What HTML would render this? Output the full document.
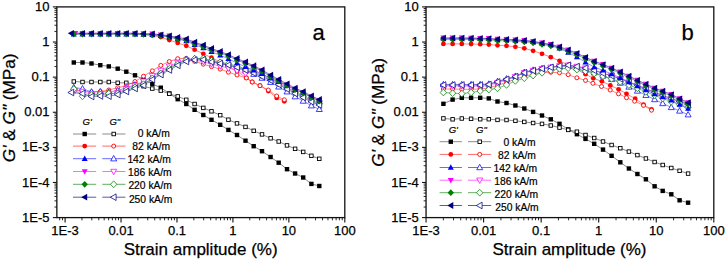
<!DOCTYPE html>
<html><head><meta charset="utf-8"><style>
html,body{margin:0;padding:0;background:#fff;}
body{width:725px;height:260px;overflow:hidden;font-family:"Liberation Sans",sans-serif;}
svg{display:block;}
</style></head><body>
<svg width="725" height="260" viewBox="0 0 725 260">
<rect width="725" height="260" fill="#fff"/>
<rect x="56.85" y="6.9" width="287.95" height="210.70" fill="none" stroke="#111" stroke-width="1.3"/>
<line x1="52.85" y1="6.90" x2="56.85" y2="6.90" stroke="#111" stroke-width="1.1"/>
<text x="49.550000000000004" y="11.00" text-anchor="end" font-size="13" font-family="Liberation Sans, sans-serif" fill="#000" stroke="#000" stroke-width="0.25">10</text>
<line x1="54.45" y1="31.45" x2="56.85" y2="31.45" stroke="#111" stroke-width="0.9"/>
<line x1="54.45" y1="25.26" x2="56.85" y2="25.26" stroke="#111" stroke-width="0.9"/>
<line x1="54.45" y1="20.87" x2="56.85" y2="20.87" stroke="#111" stroke-width="0.9"/>
<line x1="54.45" y1="17.47" x2="56.85" y2="17.47" stroke="#111" stroke-width="0.9"/>
<line x1="54.45" y1="14.69" x2="56.85" y2="14.69" stroke="#111" stroke-width="0.9"/>
<line x1="54.45" y1="12.34" x2="56.85" y2="12.34" stroke="#111" stroke-width="0.9"/>
<line x1="54.45" y1="10.30" x2="56.85" y2="10.30" stroke="#111" stroke-width="0.9"/>
<line x1="54.45" y1="8.51" x2="56.85" y2="8.51" stroke="#111" stroke-width="0.9"/>
<line x1="52.85" y1="42.02" x2="56.85" y2="42.02" stroke="#111" stroke-width="1.1"/>
<text x="49.550000000000004" y="46.12" text-anchor="end" font-size="13" font-family="Liberation Sans, sans-serif" fill="#000" stroke="#000" stroke-width="0.25">1</text>
<line x1="54.45" y1="66.56" x2="56.85" y2="66.56" stroke="#111" stroke-width="0.9"/>
<line x1="54.45" y1="60.38" x2="56.85" y2="60.38" stroke="#111" stroke-width="0.9"/>
<line x1="54.45" y1="55.99" x2="56.85" y2="55.99" stroke="#111" stroke-width="0.9"/>
<line x1="54.45" y1="52.59" x2="56.85" y2="52.59" stroke="#111" stroke-width="0.9"/>
<line x1="54.45" y1="49.81" x2="56.85" y2="49.81" stroke="#111" stroke-width="0.9"/>
<line x1="54.45" y1="47.46" x2="56.85" y2="47.46" stroke="#111" stroke-width="0.9"/>
<line x1="54.45" y1="45.42" x2="56.85" y2="45.42" stroke="#111" stroke-width="0.9"/>
<line x1="54.45" y1="43.62" x2="56.85" y2="43.62" stroke="#111" stroke-width="0.9"/>
<line x1="52.85" y1="77.13" x2="56.85" y2="77.13" stroke="#111" stroke-width="1.1"/>
<text x="49.550000000000004" y="81.23" text-anchor="end" font-size="13" font-family="Liberation Sans, sans-serif" fill="#000" stroke="#000" stroke-width="0.25">0.1</text>
<line x1="54.45" y1="101.68" x2="56.85" y2="101.68" stroke="#111" stroke-width="0.9"/>
<line x1="54.45" y1="95.50" x2="56.85" y2="95.50" stroke="#111" stroke-width="0.9"/>
<line x1="54.45" y1="91.11" x2="56.85" y2="91.11" stroke="#111" stroke-width="0.9"/>
<line x1="54.45" y1="87.70" x2="56.85" y2="87.70" stroke="#111" stroke-width="0.9"/>
<line x1="54.45" y1="84.92" x2="56.85" y2="84.92" stroke="#111" stroke-width="0.9"/>
<line x1="54.45" y1="82.57" x2="56.85" y2="82.57" stroke="#111" stroke-width="0.9"/>
<line x1="54.45" y1="80.54" x2="56.85" y2="80.54" stroke="#111" stroke-width="0.9"/>
<line x1="54.45" y1="78.74" x2="56.85" y2="78.74" stroke="#111" stroke-width="0.9"/>
<line x1="52.85" y1="112.25" x2="56.85" y2="112.25" stroke="#111" stroke-width="1.1"/>
<text x="49.550000000000004" y="116.35" text-anchor="end" font-size="13" font-family="Liberation Sans, sans-serif" fill="#000" stroke="#000" stroke-width="0.25">0.01</text>
<line x1="54.45" y1="136.80" x2="56.85" y2="136.80" stroke="#111" stroke-width="0.9"/>
<line x1="54.45" y1="130.61" x2="56.85" y2="130.61" stroke="#111" stroke-width="0.9"/>
<line x1="54.45" y1="126.22" x2="56.85" y2="126.22" stroke="#111" stroke-width="0.9"/>
<line x1="54.45" y1="122.82" x2="56.85" y2="122.82" stroke="#111" stroke-width="0.9"/>
<line x1="54.45" y1="120.04" x2="56.85" y2="120.04" stroke="#111" stroke-width="0.9"/>
<line x1="54.45" y1="117.69" x2="56.85" y2="117.69" stroke="#111" stroke-width="0.9"/>
<line x1="54.45" y1="115.65" x2="56.85" y2="115.65" stroke="#111" stroke-width="0.9"/>
<line x1="54.45" y1="113.86" x2="56.85" y2="113.86" stroke="#111" stroke-width="0.9"/>
<line x1="52.85" y1="147.37" x2="56.85" y2="147.37" stroke="#111" stroke-width="1.1"/>
<text x="49.550000000000004" y="151.47" text-anchor="end" font-size="13" font-family="Liberation Sans, sans-serif" fill="#000" stroke="#000" stroke-width="0.25">1E-3</text>
<line x1="54.45" y1="171.91" x2="56.85" y2="171.91" stroke="#111" stroke-width="0.9"/>
<line x1="54.45" y1="165.73" x2="56.85" y2="165.73" stroke="#111" stroke-width="0.9"/>
<line x1="54.45" y1="161.34" x2="56.85" y2="161.34" stroke="#111" stroke-width="0.9"/>
<line x1="54.45" y1="157.94" x2="56.85" y2="157.94" stroke="#111" stroke-width="0.9"/>
<line x1="54.45" y1="155.16" x2="56.85" y2="155.16" stroke="#111" stroke-width="0.9"/>
<line x1="54.45" y1="152.81" x2="56.85" y2="152.81" stroke="#111" stroke-width="0.9"/>
<line x1="54.45" y1="150.77" x2="56.85" y2="150.77" stroke="#111" stroke-width="0.9"/>
<line x1="54.45" y1="148.97" x2="56.85" y2="148.97" stroke="#111" stroke-width="0.9"/>
<line x1="52.85" y1="182.48" x2="56.85" y2="182.48" stroke="#111" stroke-width="1.1"/>
<text x="49.550000000000004" y="186.58" text-anchor="end" font-size="13" font-family="Liberation Sans, sans-serif" fill="#000" stroke="#000" stroke-width="0.25">1E-4</text>
<line x1="54.45" y1="207.03" x2="56.85" y2="207.03" stroke="#111" stroke-width="0.9"/>
<line x1="54.45" y1="200.85" x2="56.85" y2="200.85" stroke="#111" stroke-width="0.9"/>
<line x1="54.45" y1="196.46" x2="56.85" y2="196.46" stroke="#111" stroke-width="0.9"/>
<line x1="54.45" y1="193.05" x2="56.85" y2="193.05" stroke="#111" stroke-width="0.9"/>
<line x1="54.45" y1="190.27" x2="56.85" y2="190.27" stroke="#111" stroke-width="0.9"/>
<line x1="54.45" y1="187.92" x2="56.85" y2="187.92" stroke="#111" stroke-width="0.9"/>
<line x1="54.45" y1="185.89" x2="56.85" y2="185.89" stroke="#111" stroke-width="0.9"/>
<line x1="54.45" y1="184.09" x2="56.85" y2="184.09" stroke="#111" stroke-width="0.9"/>
<line x1="52.85" y1="217.60" x2="56.85" y2="217.60" stroke="#111" stroke-width="1.1"/>
<text x="49.550000000000004" y="221.70" text-anchor="end" font-size="13" font-family="Liberation Sans, sans-serif" fill="#000" stroke="#000" stroke-width="0.25">1E-5</text>
<line x1="59.68" y1="217.6" x2="59.68" y2="220.29999999999998" stroke="#111" stroke-width="0.9"/>
<line x1="62.54" y1="217.6" x2="62.54" y2="220.29999999999998" stroke="#111" stroke-width="0.9"/>
<line x1="65.10" y1="217.6" x2="65.10" y2="222.4" stroke="#111" stroke-width="1.1"/>
<text x="65.10" y="235.4" text-anchor="middle" font-size="13" font-family="Liberation Sans, sans-serif" fill="#000" stroke="#000" stroke-width="0.25">1E-3</text>
<line x1="81.94" y1="217.6" x2="81.94" y2="220.29999999999998" stroke="#111" stroke-width="0.9"/>
<line x1="91.79" y1="217.6" x2="91.79" y2="220.29999999999998" stroke="#111" stroke-width="0.9"/>
<line x1="98.78" y1="217.6" x2="98.78" y2="220.29999999999998" stroke="#111" stroke-width="0.9"/>
<line x1="104.20" y1="217.6" x2="104.20" y2="220.29999999999998" stroke="#111" stroke-width="0.9"/>
<line x1="108.63" y1="217.6" x2="108.63" y2="220.29999999999998" stroke="#111" stroke-width="0.9"/>
<line x1="112.37" y1="217.6" x2="112.37" y2="220.29999999999998" stroke="#111" stroke-width="0.9"/>
<line x1="115.62" y1="217.6" x2="115.62" y2="220.29999999999998" stroke="#111" stroke-width="0.9"/>
<line x1="118.48" y1="217.6" x2="118.48" y2="220.29999999999998" stroke="#111" stroke-width="0.9"/>
<line x1="121.04" y1="217.6" x2="121.04" y2="222.4" stroke="#111" stroke-width="1.1"/>
<text x="121.04" y="235.4" text-anchor="middle" font-size="13" font-family="Liberation Sans, sans-serif" fill="#000" stroke="#000" stroke-width="0.25">0.01</text>
<line x1="137.88" y1="217.6" x2="137.88" y2="220.29999999999998" stroke="#111" stroke-width="0.9"/>
<line x1="147.73" y1="217.6" x2="147.73" y2="220.29999999999998" stroke="#111" stroke-width="0.9"/>
<line x1="154.72" y1="217.6" x2="154.72" y2="220.29999999999998" stroke="#111" stroke-width="0.9"/>
<line x1="160.14" y1="217.6" x2="160.14" y2="220.29999999999998" stroke="#111" stroke-width="0.9"/>
<line x1="164.57" y1="217.6" x2="164.57" y2="220.29999999999998" stroke="#111" stroke-width="0.9"/>
<line x1="168.31" y1="217.6" x2="168.31" y2="220.29999999999998" stroke="#111" stroke-width="0.9"/>
<line x1="171.56" y1="217.6" x2="171.56" y2="220.29999999999998" stroke="#111" stroke-width="0.9"/>
<line x1="174.42" y1="217.6" x2="174.42" y2="220.29999999999998" stroke="#111" stroke-width="0.9"/>
<line x1="176.98" y1="217.6" x2="176.98" y2="222.4" stroke="#111" stroke-width="1.1"/>
<text x="176.98" y="235.4" text-anchor="middle" font-size="13" font-family="Liberation Sans, sans-serif" fill="#000" stroke="#000" stroke-width="0.25">0.1</text>
<line x1="193.82" y1="217.6" x2="193.82" y2="220.29999999999998" stroke="#111" stroke-width="0.9"/>
<line x1="203.67" y1="217.6" x2="203.67" y2="220.29999999999998" stroke="#111" stroke-width="0.9"/>
<line x1="210.66" y1="217.6" x2="210.66" y2="220.29999999999998" stroke="#111" stroke-width="0.9"/>
<line x1="216.08" y1="217.6" x2="216.08" y2="220.29999999999998" stroke="#111" stroke-width="0.9"/>
<line x1="220.51" y1="217.6" x2="220.51" y2="220.29999999999998" stroke="#111" stroke-width="0.9"/>
<line x1="224.25" y1="217.6" x2="224.25" y2="220.29999999999998" stroke="#111" stroke-width="0.9"/>
<line x1="227.50" y1="217.6" x2="227.50" y2="220.29999999999998" stroke="#111" stroke-width="0.9"/>
<line x1="230.36" y1="217.6" x2="230.36" y2="220.29999999999998" stroke="#111" stroke-width="0.9"/>
<line x1="232.92" y1="217.6" x2="232.92" y2="222.4" stroke="#111" stroke-width="1.1"/>
<text x="232.92" y="235.4" text-anchor="middle" font-size="13" font-family="Liberation Sans, sans-serif" fill="#000" stroke="#000" stroke-width="0.25">1</text>
<line x1="249.76" y1="217.6" x2="249.76" y2="220.29999999999998" stroke="#111" stroke-width="0.9"/>
<line x1="259.61" y1="217.6" x2="259.61" y2="220.29999999999998" stroke="#111" stroke-width="0.9"/>
<line x1="266.60" y1="217.6" x2="266.60" y2="220.29999999999998" stroke="#111" stroke-width="0.9"/>
<line x1="272.02" y1="217.6" x2="272.02" y2="220.29999999999998" stroke="#111" stroke-width="0.9"/>
<line x1="276.45" y1="217.6" x2="276.45" y2="220.29999999999998" stroke="#111" stroke-width="0.9"/>
<line x1="280.19" y1="217.6" x2="280.19" y2="220.29999999999998" stroke="#111" stroke-width="0.9"/>
<line x1="283.44" y1="217.6" x2="283.44" y2="220.29999999999998" stroke="#111" stroke-width="0.9"/>
<line x1="286.30" y1="217.6" x2="286.30" y2="220.29999999999998" stroke="#111" stroke-width="0.9"/>
<line x1="288.86" y1="217.6" x2="288.86" y2="222.4" stroke="#111" stroke-width="1.1"/>
<text x="288.86" y="235.4" text-anchor="middle" font-size="13" font-family="Liberation Sans, sans-serif" fill="#000" stroke="#000" stroke-width="0.25">10</text>
<line x1="305.70" y1="217.6" x2="305.70" y2="220.29999999999998" stroke="#111" stroke-width="0.9"/>
<line x1="315.55" y1="217.6" x2="315.55" y2="220.29999999999998" stroke="#111" stroke-width="0.9"/>
<line x1="322.54" y1="217.6" x2="322.54" y2="220.29999999999998" stroke="#111" stroke-width="0.9"/>
<line x1="327.96" y1="217.6" x2="327.96" y2="220.29999999999998" stroke="#111" stroke-width="0.9"/>
<line x1="332.39" y1="217.6" x2="332.39" y2="220.29999999999998" stroke="#111" stroke-width="0.9"/>
<line x1="336.13" y1="217.6" x2="336.13" y2="220.29999999999998" stroke="#111" stroke-width="0.9"/>
<line x1="339.38" y1="217.6" x2="339.38" y2="220.29999999999998" stroke="#111" stroke-width="0.9"/>
<line x1="342.24" y1="217.6" x2="342.24" y2="220.29999999999998" stroke="#111" stroke-width="0.9"/>
<line x1="344.80" y1="217.6" x2="344.80" y2="222.4" stroke="#111" stroke-width="1.1"/>
<text x="344.80" y="235.4" text-anchor="middle" font-size="13" font-family="Liberation Sans, sans-serif" fill="#000" stroke="#000" stroke-width="0.25">100</text>
<text transform="translate(14.6,107.8) rotate(-90)" text-anchor="middle" font-size="17.2" font-family="Liberation Sans, sans-serif" fill="#000" stroke="#000" stroke-width="0.25"><tspan font-style="italic">G'</tspan> &amp; <tspan font-style="italic">G"</tspan> (MPa)</text>
<text x="200.65" y="255.3" text-anchor="middle" font-size="17" font-family="Liberation Sans, sans-serif" fill="#000" stroke="#000" stroke-width="0.25">Strain amplitude (%)</text>
<text x="312.6" y="39.8" font-size="22" font-family="Liberation Sans, sans-serif" fill="#000" stroke="#000" stroke-width="0.25">a</text>
<text x="82.6" y="125.0" font-size="9.5" font-style="italic" font-family="Liberation Sans, sans-serif" fill="#000" stroke="#000" stroke-width="0.2">G'</text>
<text x="109.4" y="125.0" font-size="9.5" font-style="italic" font-family="Liberation Sans, sans-serif" fill="#000" stroke="#000" stroke-width="0.2">G"</text>
<line x1="73" y1="134.00" x2="96.2" y2="134.00" stroke="#8a8a8a" stroke-width="1"/>
<line x1="102.3" y1="134.00" x2="125.4" y2="134.00" stroke="#8a8a8a" stroke-width="1"/>
<rect x="82.50" y="131.80" width="4.40" height="4.40" fill="#000000" stroke="#000000" stroke-width="0"/>
<rect x="111.95" y="132.25" width="3.50" height="3.50" fill="#fff" stroke="#000000" stroke-width="0.9"/>
<text x="169.8" y="137.00" text-anchor="end" font-size="10.3" font-family="Liberation Sans, sans-serif" fill="#000" stroke="#000" stroke-width="0.2">0 kA/m</text>
<line x1="73" y1="146.10" x2="96.2" y2="146.10" stroke="#ff6a6a" stroke-width="1"/>
<line x1="102.3" y1="146.10" x2="125.4" y2="146.10" stroke="#ff6a6a" stroke-width="1"/>
<circle cx="84.70" cy="146.10" r="2.4" fill="#ff0000" stroke="#ff0000" stroke-width="0"/>
<circle cx="113.70" cy="146.10" r="2.0" fill="#fff" stroke="#ff0000" stroke-width="0.9"/>
<text x="170.1" y="150.10" text-anchor="end" font-size="10.3" font-family="Liberation Sans, sans-serif" fill="#000" stroke="#000" stroke-width="0.2">82 kA/m</text>
<line x1="73" y1="158.70" x2="96.2" y2="158.70" stroke="#6a6aff" stroke-width="1"/>
<line x1="102.3" y1="158.70" x2="125.4" y2="158.70" stroke="#6a6aff" stroke-width="1"/>
<polygon points="84.70,155.50 87.70,160.90 81.70,160.90" fill="#0000ff" stroke="#0000ff" stroke-width="0"/>
<polygon points="113.70,155.50 116.70,160.90 110.70,160.90" fill="#fff" stroke="#0000ff" stroke-width="0.75"/>
<text x="170.9" y="163.20" text-anchor="end" font-size="10.3" font-family="Liberation Sans, sans-serif" fill="#000" stroke="#000" stroke-width="0.2">142 kA/m</text>
<line x1="73" y1="171.50" x2="96.2" y2="171.50" stroke="#ff6aff" stroke-width="1"/>
<line x1="102.3" y1="171.50" x2="125.4" y2="171.50" stroke="#ff6aff" stroke-width="1"/>
<polygon points="84.70,174.70 87.70,169.30 81.70,169.30" fill="#ff00ff" stroke="#ff00ff" stroke-width="0"/>
<polygon points="113.70,174.70 116.70,169.30 110.70,169.30" fill="#fff" stroke="#ff00ff" stroke-width="0.75"/>
<text x="171.6" y="176.30" text-anchor="end" font-size="10.3" font-family="Liberation Sans, sans-serif" fill="#000" stroke="#000" stroke-width="0.2">186 kA/m</text>
<line x1="73" y1="184.30" x2="96.2" y2="184.30" stroke="#60b060" stroke-width="1"/>
<line x1="102.3" y1="184.30" x2="125.4" y2="184.30" stroke="#60b060" stroke-width="1"/>
<polygon points="84.70,180.90 87.90,184.30 84.70,187.70 81.50,184.30" fill="#008000" stroke="#008000" stroke-width="0"/>
<polygon points="113.70,180.90 116.90,184.30 113.70,187.70 110.50,184.30" fill="#fff" stroke="#008000" stroke-width="0.75"/>
<text x="171.9" y="189.40" text-anchor="end" font-size="10.3" font-family="Liberation Sans, sans-serif" fill="#000" stroke="#000" stroke-width="0.2">220 kA/m</text>
<line x1="73" y1="197.20" x2="96.2" y2="197.20" stroke="#5a5aaa" stroke-width="1"/>
<line x1="102.3" y1="197.20" x2="125.4" y2="197.20" stroke="#5a5aaa" stroke-width="1"/>
<polygon points="81.20,197.20 87.20,193.80 87.20,200.60" fill="#000080" stroke="#000080" stroke-width="0"/>
<polygon points="110.30,197.20 116.10,193.90 116.10,200.50" fill="#fff" stroke="#000080" stroke-width="0.75"/>
<text x="172.4" y="202.50" text-anchor="end" font-size="10.3" font-family="Liberation Sans, sans-serif" fill="#000" stroke="#000" stroke-width="0.2">250 kA/m</text>
<polyline points="73.80,62.50 82.50,62.50 91.50,63.50 100.30,65.20 108.80,66.40 117.70,68.70 126.30,71.70 135.00,75.30 143.50,79.50 152.30,84.10 160.80,87.70 169.30,93.50 177.70,99.20 186.30,104.00 194.60,109.80 203.30,115.00 211.50,119.80 220.20,124.80 228.40,129.90 237.00,135.00 245.50,140.70 253.70,146.20 262.00,151.20 270.60,157.00 278.70,162.70 287.00,169.20 295.10,173.50 303.20,177.50 311.40,183.90 319.30,186.00" fill="none" stroke="#555555" stroke-width="0.7"/>
<rect x="71.60" y="60.30" width="4.40" height="4.40" fill="#000000" stroke="#000000" stroke-width="0"/>
<rect x="80.30" y="60.30" width="4.40" height="4.40" fill="#000000" stroke="#000000" stroke-width="0"/>
<rect x="89.30" y="61.30" width="4.40" height="4.40" fill="#000000" stroke="#000000" stroke-width="0"/>
<rect x="98.10" y="63.00" width="4.40" height="4.40" fill="#000000" stroke="#000000" stroke-width="0"/>
<rect x="106.60" y="64.20" width="4.40" height="4.40" fill="#000000" stroke="#000000" stroke-width="0"/>
<rect x="115.50" y="66.50" width="4.40" height="4.40" fill="#000000" stroke="#000000" stroke-width="0"/>
<rect x="124.10" y="69.50" width="4.40" height="4.40" fill="#000000" stroke="#000000" stroke-width="0"/>
<rect x="132.80" y="73.10" width="4.40" height="4.40" fill="#000000" stroke="#000000" stroke-width="0"/>
<rect x="141.30" y="77.30" width="4.40" height="4.40" fill="#000000" stroke="#000000" stroke-width="0"/>
<rect x="150.10" y="81.90" width="4.40" height="4.40" fill="#000000" stroke="#000000" stroke-width="0"/>
<rect x="158.60" y="85.50" width="4.40" height="4.40" fill="#000000" stroke="#000000" stroke-width="0"/>
<rect x="167.10" y="91.30" width="4.40" height="4.40" fill="#000000" stroke="#000000" stroke-width="0"/>
<rect x="175.50" y="97.00" width="4.40" height="4.40" fill="#000000" stroke="#000000" stroke-width="0"/>
<rect x="184.10" y="101.80" width="4.40" height="4.40" fill="#000000" stroke="#000000" stroke-width="0"/>
<rect x="192.40" y="107.60" width="4.40" height="4.40" fill="#000000" stroke="#000000" stroke-width="0"/>
<rect x="201.10" y="112.80" width="4.40" height="4.40" fill="#000000" stroke="#000000" stroke-width="0"/>
<rect x="209.30" y="117.60" width="4.40" height="4.40" fill="#000000" stroke="#000000" stroke-width="0"/>
<rect x="218.00" y="122.60" width="4.40" height="4.40" fill="#000000" stroke="#000000" stroke-width="0"/>
<rect x="226.20" y="127.70" width="4.40" height="4.40" fill="#000000" stroke="#000000" stroke-width="0"/>
<rect x="234.80" y="132.80" width="4.40" height="4.40" fill="#000000" stroke="#000000" stroke-width="0"/>
<rect x="243.30" y="138.50" width="4.40" height="4.40" fill="#000000" stroke="#000000" stroke-width="0"/>
<rect x="251.50" y="144.00" width="4.40" height="4.40" fill="#000000" stroke="#000000" stroke-width="0"/>
<rect x="259.80" y="149.00" width="4.40" height="4.40" fill="#000000" stroke="#000000" stroke-width="0"/>
<rect x="268.40" y="154.80" width="4.40" height="4.40" fill="#000000" stroke="#000000" stroke-width="0"/>
<rect x="276.50" y="160.50" width="4.40" height="4.40" fill="#000000" stroke="#000000" stroke-width="0"/>
<rect x="284.80" y="167.00" width="4.40" height="4.40" fill="#000000" stroke="#000000" stroke-width="0"/>
<rect x="292.90" y="171.30" width="4.40" height="4.40" fill="#000000" stroke="#000000" stroke-width="0"/>
<rect x="301.00" y="175.30" width="4.40" height="4.40" fill="#000000" stroke="#000000" stroke-width="0"/>
<rect x="309.20" y="181.70" width="4.40" height="4.40" fill="#000000" stroke="#000000" stroke-width="0"/>
<rect x="317.10" y="183.80" width="4.40" height="4.40" fill="#000000" stroke="#000000" stroke-width="0"/>
<polyline points="73.80,81.50 82.50,82.00 91.50,82.00 100.30,82.00 108.80,82.00 117.70,82.80 126.30,82.80 135.00,84.00 143.50,86.20 152.30,88.60 160.80,90.60 169.30,93.80 177.70,96.40 186.30,99.80 194.60,104.00 203.30,107.90 211.50,111.30 220.20,115.20 228.40,119.70 237.00,123.40 245.50,126.90 253.70,130.80 262.00,134.40 270.60,138.30 278.70,141.50 287.00,145.40 295.10,148.80 303.20,151.90 311.40,155.80 319.30,158.80" fill="none" stroke="#555555" stroke-width="0.7"/>
<rect x="72.05" y="79.75" width="3.50" height="3.50" fill="#fff" stroke="#000000" stroke-width="0.9"/>
<rect x="80.75" y="80.25" width="3.50" height="3.50" fill="#fff" stroke="#000000" stroke-width="0.9"/>
<rect x="89.75" y="80.25" width="3.50" height="3.50" fill="#fff" stroke="#000000" stroke-width="0.9"/>
<rect x="98.55" y="80.25" width="3.50" height="3.50" fill="#fff" stroke="#000000" stroke-width="0.9"/>
<rect x="107.05" y="80.25" width="3.50" height="3.50" fill="#fff" stroke="#000000" stroke-width="0.9"/>
<rect x="115.95" y="81.05" width="3.50" height="3.50" fill="#fff" stroke="#000000" stroke-width="0.9"/>
<rect x="124.55" y="81.05" width="3.50" height="3.50" fill="#fff" stroke="#000000" stroke-width="0.9"/>
<rect x="133.25" y="82.25" width="3.50" height="3.50" fill="#fff" stroke="#000000" stroke-width="0.9"/>
<rect x="141.75" y="84.45" width="3.50" height="3.50" fill="#fff" stroke="#000000" stroke-width="0.9"/>
<rect x="150.55" y="86.85" width="3.50" height="3.50" fill="#fff" stroke="#000000" stroke-width="0.9"/>
<rect x="159.05" y="88.85" width="3.50" height="3.50" fill="#fff" stroke="#000000" stroke-width="0.9"/>
<rect x="167.55" y="92.05" width="3.50" height="3.50" fill="#fff" stroke="#000000" stroke-width="0.9"/>
<rect x="175.95" y="94.65" width="3.50" height="3.50" fill="#fff" stroke="#000000" stroke-width="0.9"/>
<rect x="184.55" y="98.05" width="3.50" height="3.50" fill="#fff" stroke="#000000" stroke-width="0.9"/>
<rect x="192.85" y="102.25" width="3.50" height="3.50" fill="#fff" stroke="#000000" stroke-width="0.9"/>
<rect x="201.55" y="106.15" width="3.50" height="3.50" fill="#fff" stroke="#000000" stroke-width="0.9"/>
<rect x="209.75" y="109.55" width="3.50" height="3.50" fill="#fff" stroke="#000000" stroke-width="0.9"/>
<rect x="218.45" y="113.45" width="3.50" height="3.50" fill="#fff" stroke="#000000" stroke-width="0.9"/>
<rect x="226.65" y="117.95" width="3.50" height="3.50" fill="#fff" stroke="#000000" stroke-width="0.9"/>
<rect x="235.25" y="121.65" width="3.50" height="3.50" fill="#fff" stroke="#000000" stroke-width="0.9"/>
<rect x="243.75" y="125.15" width="3.50" height="3.50" fill="#fff" stroke="#000000" stroke-width="0.9"/>
<rect x="251.95" y="129.05" width="3.50" height="3.50" fill="#fff" stroke="#000000" stroke-width="0.9"/>
<rect x="260.25" y="132.65" width="3.50" height="3.50" fill="#fff" stroke="#000000" stroke-width="0.9"/>
<rect x="268.85" y="136.55" width="3.50" height="3.50" fill="#fff" stroke="#000000" stroke-width="0.9"/>
<rect x="276.95" y="139.75" width="3.50" height="3.50" fill="#fff" stroke="#000000" stroke-width="0.9"/>
<rect x="285.25" y="143.65" width="3.50" height="3.50" fill="#fff" stroke="#000000" stroke-width="0.9"/>
<rect x="293.35" y="147.05" width="3.50" height="3.50" fill="#fff" stroke="#000000" stroke-width="0.9"/>
<rect x="301.45" y="150.15" width="3.50" height="3.50" fill="#fff" stroke="#000000" stroke-width="0.9"/>
<rect x="309.65" y="154.05" width="3.50" height="3.50" fill="#fff" stroke="#000000" stroke-width="0.9"/>
<rect x="317.55" y="157.05" width="3.50" height="3.50" fill="#fff" stroke="#000000" stroke-width="0.9"/>
<polyline points="73.80,33.60 82.50,33.60 91.50,33.60 100.30,33.60 108.80,33.60 117.70,33.60 126.30,33.60 135.00,33.60 143.50,34.50 152.30,35.50 160.80,37.10 169.30,40.00 177.70,42.90 186.30,45.80 194.60,49.70 203.30,53.80 211.50,57.70 220.20,62.00 228.40,66.50 237.00,71.00 246.30,77.90 252.20,82.00 260.00,85.70 268.30,91.00 276.70,97.90 284.30,101.30" fill="none" stroke="#ff5050" stroke-width="0.7"/>
<circle cx="73.80" cy="33.60" r="2.4" fill="#ff0000" stroke="#ff0000" stroke-width="0"/>
<circle cx="82.50" cy="33.60" r="2.4" fill="#ff0000" stroke="#ff0000" stroke-width="0"/>
<circle cx="91.50" cy="33.60" r="2.4" fill="#ff0000" stroke="#ff0000" stroke-width="0"/>
<circle cx="100.30" cy="33.60" r="2.4" fill="#ff0000" stroke="#ff0000" stroke-width="0"/>
<circle cx="108.80" cy="33.60" r="2.4" fill="#ff0000" stroke="#ff0000" stroke-width="0"/>
<circle cx="117.70" cy="33.60" r="2.4" fill="#ff0000" stroke="#ff0000" stroke-width="0"/>
<circle cx="126.30" cy="33.60" r="2.4" fill="#ff0000" stroke="#ff0000" stroke-width="0"/>
<circle cx="135.00" cy="33.60" r="2.4" fill="#ff0000" stroke="#ff0000" stroke-width="0"/>
<circle cx="143.50" cy="34.50" r="2.4" fill="#ff0000" stroke="#ff0000" stroke-width="0"/>
<circle cx="152.30" cy="35.50" r="2.4" fill="#ff0000" stroke="#ff0000" stroke-width="0"/>
<circle cx="160.80" cy="37.10" r="2.4" fill="#ff0000" stroke="#ff0000" stroke-width="0"/>
<circle cx="169.30" cy="40.00" r="2.4" fill="#ff0000" stroke="#ff0000" stroke-width="0"/>
<circle cx="177.70" cy="42.90" r="2.4" fill="#ff0000" stroke="#ff0000" stroke-width="0"/>
<circle cx="186.30" cy="45.80" r="2.4" fill="#ff0000" stroke="#ff0000" stroke-width="0"/>
<circle cx="194.60" cy="49.70" r="2.4" fill="#ff0000" stroke="#ff0000" stroke-width="0"/>
<circle cx="203.30" cy="53.80" r="2.4" fill="#ff0000" stroke="#ff0000" stroke-width="0"/>
<circle cx="211.50" cy="57.70" r="2.4" fill="#ff0000" stroke="#ff0000" stroke-width="0"/>
<circle cx="220.20" cy="62.00" r="2.4" fill="#ff0000" stroke="#ff0000" stroke-width="0"/>
<circle cx="228.40" cy="66.50" r="2.4" fill="#ff0000" stroke="#ff0000" stroke-width="0"/>
<circle cx="237.00" cy="71.00" r="2.4" fill="#ff0000" stroke="#ff0000" stroke-width="0"/>
<circle cx="246.30" cy="77.90" r="2.4" fill="#ff0000" stroke="#ff0000" stroke-width="0"/>
<circle cx="252.20" cy="82.00" r="2.4" fill="#ff0000" stroke="#ff0000" stroke-width="0"/>
<circle cx="260.00" cy="85.70" r="2.4" fill="#ff0000" stroke="#ff0000" stroke-width="0"/>
<circle cx="268.30" cy="91.00" r="2.4" fill="#ff0000" stroke="#ff0000" stroke-width="0"/>
<circle cx="276.70" cy="97.90" r="2.4" fill="#ff0000" stroke="#ff0000" stroke-width="0"/>
<circle cx="284.30" cy="101.30" r="2.4" fill="#ff0000" stroke="#ff0000" stroke-width="0"/>
<polyline points="73.80,90.00 82.50,91.00 91.50,92.00 100.30,91.50 108.80,90.00 117.70,87.70 126.30,85.80 135.00,81.50 143.50,76.20 152.30,70.80 160.80,65.40 169.30,61.50 177.70,58.70 186.30,58.30 194.60,61.30 203.30,64.20 211.50,66.60 220.20,69.10 228.40,72.20 237.00,75.00 246.30,77.90 252.20,82.00 260.00,85.70 268.30,90.00 276.70,96.00 284.30,99.80" fill="none" stroke="#ff5050" stroke-width="0.7"/>
<circle cx="73.80" cy="90.00" r="2.0" fill="#fff" stroke="#ff0000" stroke-width="0.9"/>
<circle cx="82.50" cy="91.00" r="2.0" fill="#fff" stroke="#ff0000" stroke-width="0.9"/>
<circle cx="91.50" cy="92.00" r="2.0" fill="#fff" stroke="#ff0000" stroke-width="0.9"/>
<circle cx="100.30" cy="91.50" r="2.0" fill="#fff" stroke="#ff0000" stroke-width="0.9"/>
<circle cx="108.80" cy="90.00" r="2.0" fill="#fff" stroke="#ff0000" stroke-width="0.9"/>
<circle cx="117.70" cy="87.70" r="2.0" fill="#fff" stroke="#ff0000" stroke-width="0.9"/>
<circle cx="126.30" cy="85.80" r="2.0" fill="#fff" stroke="#ff0000" stroke-width="0.9"/>
<circle cx="135.00" cy="81.50" r="2.0" fill="#fff" stroke="#ff0000" stroke-width="0.9"/>
<circle cx="143.50" cy="76.20" r="2.0" fill="#fff" stroke="#ff0000" stroke-width="0.9"/>
<circle cx="152.30" cy="70.80" r="2.0" fill="#fff" stroke="#ff0000" stroke-width="0.9"/>
<circle cx="160.80" cy="65.40" r="2.0" fill="#fff" stroke="#ff0000" stroke-width="0.9"/>
<circle cx="169.30" cy="61.50" r="2.0" fill="#fff" stroke="#ff0000" stroke-width="0.9"/>
<circle cx="177.70" cy="58.70" r="2.0" fill="#fff" stroke="#ff0000" stroke-width="0.9"/>
<circle cx="186.30" cy="58.30" r="2.0" fill="#fff" stroke="#ff0000" stroke-width="0.9"/>
<circle cx="194.60" cy="61.30" r="2.0" fill="#fff" stroke="#ff0000" stroke-width="0.9"/>
<circle cx="203.30" cy="64.20" r="2.0" fill="#fff" stroke="#ff0000" stroke-width="0.9"/>
<circle cx="211.50" cy="66.60" r="2.0" fill="#fff" stroke="#ff0000" stroke-width="0.9"/>
<circle cx="220.20" cy="69.10" r="2.0" fill="#fff" stroke="#ff0000" stroke-width="0.9"/>
<circle cx="228.40" cy="72.20" r="2.0" fill="#fff" stroke="#ff0000" stroke-width="0.9"/>
<circle cx="237.00" cy="75.00" r="2.0" fill="#fff" stroke="#ff0000" stroke-width="0.9"/>
<circle cx="246.30" cy="77.90" r="2.0" fill="#fff" stroke="#ff0000" stroke-width="0.9"/>
<circle cx="252.20" cy="82.00" r="2.0" fill="#fff" stroke="#ff0000" stroke-width="0.9"/>
<circle cx="260.00" cy="85.70" r="2.0" fill="#fff" stroke="#ff0000" stroke-width="0.9"/>
<circle cx="268.30" cy="90.00" r="2.0" fill="#fff" stroke="#ff0000" stroke-width="0.9"/>
<circle cx="276.70" cy="96.00" r="2.0" fill="#fff" stroke="#ff0000" stroke-width="0.9"/>
<circle cx="284.30" cy="99.80" r="2.0" fill="#fff" stroke="#ff0000" stroke-width="0.9"/>
<polyline points="73.80,87.50 82.50,88.70 91.50,91.90 100.30,91.60 108.80,92.00 117.70,90.60 126.30,87.70 135.00,84.90 143.50,82.00 152.30,76.40 160.80,71.60 169.30,67.38 177.70,63.15 186.30,59.62 194.60,58.50 203.30,58.48 211.50,61.15 220.20,63.12 228.40,65.00 237.00,67.69 245.50,70.78 253.70,74.17 262.00,78.06 270.60,82.25 278.70,86.85 287.00,91.74 295.10,96.63 303.20,101.02 311.40,105.71 319.30,109.30" fill="none" stroke="#6060ff" stroke-width="0.7"/>
<polygon points="73.80,84.30 76.80,89.70 70.80,89.70" fill="#fff" stroke="#0000ff" stroke-width="0.75"/>
<polygon points="82.50,85.50 85.50,90.90 79.50,90.90" fill="#fff" stroke="#0000ff" stroke-width="0.75"/>
<polygon points="91.50,88.70 94.50,94.10 88.50,94.10" fill="#fff" stroke="#0000ff" stroke-width="0.75"/>
<polygon points="100.30,88.40 103.30,93.80 97.30,93.80" fill="#fff" stroke="#0000ff" stroke-width="0.75"/>
<polygon points="108.80,88.80 111.80,94.20 105.80,94.20" fill="#fff" stroke="#0000ff" stroke-width="0.75"/>
<polygon points="117.70,87.40 120.70,92.80 114.70,92.80" fill="#fff" stroke="#0000ff" stroke-width="0.75"/>
<polygon points="126.30,84.50 129.30,89.90 123.30,89.90" fill="#fff" stroke="#0000ff" stroke-width="0.75"/>
<polygon points="135.00,81.70 138.00,87.10 132.00,87.10" fill="#fff" stroke="#0000ff" stroke-width="0.75"/>
<polygon points="143.50,78.80 146.50,84.20 140.50,84.20" fill="#fff" stroke="#0000ff" stroke-width="0.75"/>
<polygon points="152.30,73.20 155.30,78.60 149.30,78.60" fill="#fff" stroke="#0000ff" stroke-width="0.75"/>
<polygon points="160.80,68.40 163.80,73.80 157.80,73.80" fill="#fff" stroke="#0000ff" stroke-width="0.75"/>
<polygon points="169.30,64.17 172.30,69.58 166.30,69.58" fill="#fff" stroke="#0000ff" stroke-width="0.75"/>
<polygon points="177.70,59.95 180.70,65.35 174.70,65.35" fill="#fff" stroke="#0000ff" stroke-width="0.75"/>
<polygon points="186.30,56.42 189.30,61.83 183.30,61.83" fill="#fff" stroke="#0000ff" stroke-width="0.75"/>
<polygon points="194.60,55.30 197.60,60.70 191.60,60.70" fill="#fff" stroke="#0000ff" stroke-width="0.75"/>
<polygon points="203.30,55.27 206.30,60.68 200.30,60.68" fill="#fff" stroke="#0000ff" stroke-width="0.75"/>
<polygon points="211.50,57.95 214.50,63.35 208.50,63.35" fill="#fff" stroke="#0000ff" stroke-width="0.75"/>
<polygon points="220.20,59.92 223.20,65.33 217.20,65.33" fill="#fff" stroke="#0000ff" stroke-width="0.75"/>
<polygon points="228.40,61.80 231.40,67.20 225.40,67.20" fill="#fff" stroke="#0000ff" stroke-width="0.75"/>
<polygon points="237.00,64.49 240.00,69.89 234.00,69.89" fill="#fff" stroke="#0000ff" stroke-width="0.75"/>
<polygon points="245.50,67.58 248.50,72.98 242.50,72.98" fill="#fff" stroke="#0000ff" stroke-width="0.75"/>
<polygon points="253.70,70.97 256.70,76.37 250.70,76.37" fill="#fff" stroke="#0000ff" stroke-width="0.75"/>
<polygon points="262.00,74.86 265.00,80.26 259.00,80.26" fill="#fff" stroke="#0000ff" stroke-width="0.75"/>
<polygon points="270.60,79.05 273.60,84.45 267.60,84.45" fill="#fff" stroke="#0000ff" stroke-width="0.75"/>
<polygon points="278.70,83.65 281.70,89.05 275.70,89.05" fill="#fff" stroke="#0000ff" stroke-width="0.75"/>
<polygon points="287.00,88.54 290.00,93.94 284.00,93.94" fill="#fff" stroke="#0000ff" stroke-width="0.75"/>
<polygon points="295.10,93.43 298.10,98.83 292.10,98.83" fill="#fff" stroke="#0000ff" stroke-width="0.75"/>
<polygon points="303.20,97.82 306.20,103.22 300.20,103.22" fill="#fff" stroke="#0000ff" stroke-width="0.75"/>
<polygon points="311.40,102.51 314.40,107.91 308.40,107.91" fill="#fff" stroke="#0000ff" stroke-width="0.75"/>
<polygon points="319.30,106.10 322.30,111.50 316.30,111.50" fill="#fff" stroke="#0000ff" stroke-width="0.75"/>
<polyline points="75.00,90.50 82.50,91.50 91.50,94.50 100.30,94.00 108.80,94.20 117.70,92.60 126.30,88.94 135.00,85.35 143.50,81.26 152.30,75.64 160.80,70.46 169.30,66.17 177.70,62.39 186.30,60.06 194.60,60.59 203.30,61.67 211.50,64.02 220.20,66.02 228.40,68.24 237.00,70.77 245.50,73.56 253.70,71.00 262.00,74.50 270.60,78.30 278.70,82.50 287.00,87.00 295.10,91.50 303.20,95.50 311.40,99.80 319.30,103.00" fill="none" stroke="#ff60ff" stroke-width="0.7"/>
<polygon points="75.00,93.70 78.00,88.30 72.00,88.30" fill="#fff" stroke="#ff00ff" stroke-width="0.75"/>
<polygon points="82.50,94.70 85.50,89.30 79.50,89.30" fill="#fff" stroke="#ff00ff" stroke-width="0.75"/>
<polygon points="91.50,97.70 94.50,92.30 88.50,92.30" fill="#fff" stroke="#ff00ff" stroke-width="0.75"/>
<polygon points="100.30,97.20 103.30,91.80 97.30,91.80" fill="#fff" stroke="#ff00ff" stroke-width="0.75"/>
<polygon points="108.80,97.40 111.80,92.00 105.80,92.00" fill="#fff" stroke="#ff00ff" stroke-width="0.75"/>
<polygon points="117.70,95.80 120.70,90.40 114.70,90.40" fill="#fff" stroke="#ff00ff" stroke-width="0.75"/>
<polygon points="126.30,92.14 129.30,86.73 123.30,86.73" fill="#fff" stroke="#ff00ff" stroke-width="0.75"/>
<polygon points="135.00,88.55 138.00,83.15 132.00,83.15" fill="#fff" stroke="#ff00ff" stroke-width="0.75"/>
<polygon points="143.50,84.46 146.50,79.06 140.50,79.06" fill="#fff" stroke="#ff00ff" stroke-width="0.75"/>
<polygon points="152.30,78.84 155.30,73.44 149.30,73.44" fill="#fff" stroke="#ff00ff" stroke-width="0.75"/>
<polygon points="160.80,73.66 163.80,68.26 157.80,68.26" fill="#fff" stroke="#ff00ff" stroke-width="0.75"/>
<polygon points="169.30,69.38 172.30,63.97 166.30,63.97" fill="#fff" stroke="#ff00ff" stroke-width="0.75"/>
<polygon points="177.70,65.59 180.70,60.19 174.70,60.19" fill="#fff" stroke="#ff00ff" stroke-width="0.75"/>
<polygon points="186.30,63.26 189.30,57.86 183.30,57.86" fill="#fff" stroke="#ff00ff" stroke-width="0.75"/>
<polygon points="194.60,63.79 197.60,58.38 191.60,58.38" fill="#fff" stroke="#ff00ff" stroke-width="0.75"/>
<polygon points="203.30,64.87 206.30,59.47 200.30,59.47" fill="#fff" stroke="#ff00ff" stroke-width="0.75"/>
<polygon points="211.50,67.22 214.50,61.81 208.50,61.81" fill="#fff" stroke="#ff00ff" stroke-width="0.75"/>
<polygon points="220.20,69.22 223.20,63.82 217.20,63.82" fill="#fff" stroke="#ff00ff" stroke-width="0.75"/>
<polygon points="228.40,71.44 231.40,66.04 225.40,66.04" fill="#fff" stroke="#ff00ff" stroke-width="0.75"/>
<polygon points="237.00,73.97 240.00,68.56 234.00,68.56" fill="#fff" stroke="#ff00ff" stroke-width="0.75"/>
<polygon points="245.50,76.76 248.50,71.36 242.50,71.36" fill="#fff" stroke="#ff00ff" stroke-width="0.75"/>
<polygon points="253.70,74.20 256.70,68.80 250.70,68.80" fill="#fff" stroke="#ff00ff" stroke-width="0.75"/>
<polygon points="262.00,77.70 265.00,72.30 259.00,72.30" fill="#fff" stroke="#ff00ff" stroke-width="0.75"/>
<polygon points="270.60,81.50 273.60,76.10 267.60,76.10" fill="#fff" stroke="#ff00ff" stroke-width="0.75"/>
<polygon points="278.70,85.70 281.70,80.30 275.70,80.30" fill="#fff" stroke="#ff00ff" stroke-width="0.75"/>
<polygon points="287.00,90.20 290.00,84.80 284.00,84.80" fill="#fff" stroke="#ff00ff" stroke-width="0.75"/>
<polygon points="295.10,94.70 298.10,89.30 292.10,89.30" fill="#fff" stroke="#ff00ff" stroke-width="0.75"/>
<polygon points="303.20,98.70 306.20,93.30 300.20,93.30" fill="#fff" stroke="#ff00ff" stroke-width="0.75"/>
<polygon points="311.40,103.00 314.40,97.60 308.40,97.60" fill="#fff" stroke="#ff00ff" stroke-width="0.75"/>
<polygon points="319.30,106.20 322.30,100.80 316.30,100.80" fill="#fff" stroke="#ff00ff" stroke-width="0.75"/>
<polyline points="73.80,89.10 82.50,96.30 91.50,95.00 100.30,94.40 108.80,93.50 117.70,93.40 126.30,90.30 135.00,87.30 143.50,84.20 152.30,78.40 160.80,73.40 169.30,68.80 177.70,64.20 186.30,60.30 194.60,58.80 203.30,58.40 211.50,60.70 220.20,62.30 228.40,63.80 237.00,66.10 245.50,68.80 253.70,71.80 262.00,75.30 270.60,79.10 278.70,83.30 287.00,87.80 295.10,92.30 303.20,96.30 311.40,100.60 319.30,103.80" fill="none" stroke="#40a040" stroke-width="0.7"/>
<polygon points="73.80,85.70 77.00,89.10 73.80,92.50 70.60,89.10" fill="#fff" stroke="#008000" stroke-width="0.75"/>
<polygon points="82.50,92.90 85.70,96.30 82.50,99.70 79.30,96.30" fill="#fff" stroke="#008000" stroke-width="0.75"/>
<polygon points="91.50,91.60 94.70,95.00 91.50,98.40 88.30,95.00" fill="#fff" stroke="#008000" stroke-width="0.75"/>
<polygon points="100.30,91.00 103.50,94.40 100.30,97.80 97.10,94.40" fill="#fff" stroke="#008000" stroke-width="0.75"/>
<polygon points="108.80,90.10 112.00,93.50 108.80,96.90 105.60,93.50" fill="#fff" stroke="#008000" stroke-width="0.75"/>
<polygon points="117.70,90.00 120.90,93.40 117.70,96.80 114.50,93.40" fill="#fff" stroke="#008000" stroke-width="0.75"/>
<polygon points="126.30,86.90 129.50,90.30 126.30,93.70 123.10,90.30" fill="#fff" stroke="#008000" stroke-width="0.75"/>
<polygon points="135.00,83.90 138.20,87.30 135.00,90.70 131.80,87.30" fill="#fff" stroke="#008000" stroke-width="0.75"/>
<polygon points="143.50,80.80 146.70,84.20 143.50,87.60 140.30,84.20" fill="#fff" stroke="#008000" stroke-width="0.75"/>
<polygon points="152.30,75.00 155.50,78.40 152.30,81.80 149.10,78.40" fill="#fff" stroke="#008000" stroke-width="0.75"/>
<polygon points="160.80,70.00 164.00,73.40 160.80,76.80 157.60,73.40" fill="#fff" stroke="#008000" stroke-width="0.75"/>
<polygon points="169.30,65.40 172.50,68.80 169.30,72.20 166.10,68.80" fill="#fff" stroke="#008000" stroke-width="0.75"/>
<polygon points="177.70,60.80 180.90,64.20 177.70,67.60 174.50,64.20" fill="#fff" stroke="#008000" stroke-width="0.75"/>
<polygon points="186.30,56.90 189.50,60.30 186.30,63.70 183.10,60.30" fill="#fff" stroke="#008000" stroke-width="0.75"/>
<polygon points="194.60,55.40 197.80,58.80 194.60,62.20 191.40,58.80" fill="#fff" stroke="#008000" stroke-width="0.75"/>
<polygon points="203.30,55.00 206.50,58.40 203.30,61.80 200.10,58.40" fill="#fff" stroke="#008000" stroke-width="0.75"/>
<polygon points="211.50,57.30 214.70,60.70 211.50,64.10 208.30,60.70" fill="#fff" stroke="#008000" stroke-width="0.75"/>
<polygon points="220.20,58.90 223.40,62.30 220.20,65.70 217.00,62.30" fill="#fff" stroke="#008000" stroke-width="0.75"/>
<polygon points="228.40,60.40 231.60,63.80 228.40,67.20 225.20,63.80" fill="#fff" stroke="#008000" stroke-width="0.75"/>
<polygon points="237.00,62.70 240.20,66.10 237.00,69.50 233.80,66.10" fill="#fff" stroke="#008000" stroke-width="0.75"/>
<polygon points="245.50,65.40 248.70,68.80 245.50,72.20 242.30,68.80" fill="#fff" stroke="#008000" stroke-width="0.75"/>
<polygon points="253.70,68.40 256.90,71.80 253.70,75.20 250.50,71.80" fill="#fff" stroke="#008000" stroke-width="0.75"/>
<polygon points="262.00,71.90 265.20,75.30 262.00,78.70 258.80,75.30" fill="#fff" stroke="#008000" stroke-width="0.75"/>
<polygon points="270.60,75.70 273.80,79.10 270.60,82.50 267.40,79.10" fill="#fff" stroke="#008000" stroke-width="0.75"/>
<polygon points="278.70,79.90 281.90,83.30 278.70,86.70 275.50,83.30" fill="#fff" stroke="#008000" stroke-width="0.75"/>
<polygon points="287.00,84.40 290.20,87.80 287.00,91.20 283.80,87.80" fill="#fff" stroke="#008000" stroke-width="0.75"/>
<polygon points="295.10,88.90 298.30,92.30 295.10,95.70 291.90,92.30" fill="#fff" stroke="#008000" stroke-width="0.75"/>
<polygon points="303.20,92.90 306.40,96.30 303.20,99.70 300.00,96.30" fill="#fff" stroke="#008000" stroke-width="0.75"/>
<polygon points="311.40,97.20 314.60,100.60 311.40,104.00 308.20,100.60" fill="#fff" stroke="#008000" stroke-width="0.75"/>
<polygon points="319.30,100.40 322.50,103.80 319.30,107.20 316.10,103.80" fill="#fff" stroke="#008000" stroke-width="0.75"/>
<polyline points="71.30,92.50 82.50,93.50 91.50,96.50 100.30,96.00 108.80,96.20 117.70,94.60 126.30,91.50 135.00,88.50 143.50,85.40 152.30,79.60 160.80,74.60 169.30,70.00 177.70,65.40 186.30,61.50 194.60,60.00 203.30,59.60 211.50,61.90 220.20,63.50 228.40,65.00 237.00,67.30 245.50,70.00 253.70,73.00 262.00,76.50 270.60,80.30 278.70,84.50 287.00,89.00 295.10,93.50 303.20,97.50 311.40,101.80 319.30,105.00" fill="none" stroke="#5050a0" stroke-width="0.7"/>
<polygon points="67.90,92.50 73.70,89.20 73.70,95.80" fill="#fff" stroke="#000080" stroke-width="0.75"/>
<polygon points="79.10,93.50 84.90,90.20 84.90,96.80" fill="#fff" stroke="#000080" stroke-width="0.75"/>
<polygon points="88.10,96.50 93.90,93.20 93.90,99.80" fill="#fff" stroke="#000080" stroke-width="0.75"/>
<polygon points="96.90,96.00 102.70,92.70 102.70,99.30" fill="#fff" stroke="#000080" stroke-width="0.75"/>
<polygon points="105.40,96.20 111.20,92.90 111.20,99.50" fill="#fff" stroke="#000080" stroke-width="0.75"/>
<polygon points="114.30,94.60 120.10,91.30 120.10,97.90" fill="#fff" stroke="#000080" stroke-width="0.75"/>
<polygon points="122.90,91.50 128.70,88.20 128.70,94.80" fill="#fff" stroke="#000080" stroke-width="0.75"/>
<polygon points="131.60,88.50 137.40,85.20 137.40,91.80" fill="#fff" stroke="#000080" stroke-width="0.75"/>
<polygon points="140.10,85.40 145.90,82.10 145.90,88.70" fill="#fff" stroke="#000080" stroke-width="0.75"/>
<polygon points="148.90,79.60 154.70,76.30 154.70,82.90" fill="#fff" stroke="#000080" stroke-width="0.75"/>
<polygon points="157.40,74.60 163.20,71.30 163.20,77.90" fill="#fff" stroke="#000080" stroke-width="0.75"/>
<polygon points="165.90,70.00 171.70,66.70 171.70,73.30" fill="#fff" stroke="#000080" stroke-width="0.75"/>
<polygon points="174.30,65.40 180.10,62.10 180.10,68.70" fill="#fff" stroke="#000080" stroke-width="0.75"/>
<polygon points="182.90,61.50 188.70,58.20 188.70,64.80" fill="#fff" stroke="#000080" stroke-width="0.75"/>
<polygon points="191.20,60.00 197.00,56.70 197.00,63.30" fill="#fff" stroke="#000080" stroke-width="0.75"/>
<polygon points="199.90,59.60 205.70,56.30 205.70,62.90" fill="#fff" stroke="#000080" stroke-width="0.75"/>
<polygon points="208.10,61.90 213.90,58.60 213.90,65.20" fill="#fff" stroke="#000080" stroke-width="0.75"/>
<polygon points="216.80,63.50 222.60,60.20 222.60,66.80" fill="#fff" stroke="#000080" stroke-width="0.75"/>
<polygon points="225.00,65.00 230.80,61.70 230.80,68.30" fill="#fff" stroke="#000080" stroke-width="0.75"/>
<polygon points="233.60,67.30 239.40,64.00 239.40,70.60" fill="#fff" stroke="#000080" stroke-width="0.75"/>
<polygon points="242.10,70.00 247.90,66.70 247.90,73.30" fill="#fff" stroke="#000080" stroke-width="0.75"/>
<polygon points="250.30,73.00 256.10,69.70 256.10,76.30" fill="#fff" stroke="#000080" stroke-width="0.75"/>
<polygon points="258.60,76.50 264.40,73.20 264.40,79.80" fill="#fff" stroke="#000080" stroke-width="0.75"/>
<polygon points="267.20,80.30 273.00,77.00 273.00,83.60" fill="#fff" stroke="#000080" stroke-width="0.75"/>
<polygon points="275.30,84.50 281.10,81.20 281.10,87.80" fill="#fff" stroke="#000080" stroke-width="0.75"/>
<polygon points="283.60,89.00 289.40,85.70 289.40,92.30" fill="#fff" stroke="#000080" stroke-width="0.75"/>
<polygon points="291.70,93.50 297.50,90.20 297.50,96.80" fill="#fff" stroke="#000080" stroke-width="0.75"/>
<polygon points="299.80,97.50 305.60,94.20 305.60,100.80" fill="#fff" stroke="#000080" stroke-width="0.75"/>
<polygon points="308.00,101.80 313.80,98.50 313.80,105.10" fill="#fff" stroke="#000080" stroke-width="0.75"/>
<polygon points="315.90,105.00 321.70,101.70 321.70,108.30" fill="#fff" stroke="#000080" stroke-width="0.75"/>
<polyline points="73.80,34.20 82.50,34.20 91.50,34.20 100.30,34.20 108.80,34.20 117.70,34.20 126.30,34.20 135.00,34.20 143.50,34.60 152.30,34.90 160.80,35.70 169.30,37.30 177.70,39.00 186.30,41.00 194.60,44.70 203.30,48.00 211.50,51.80 220.20,55.20 228.40,58.80 237.00,63.00 245.50,66.90 253.70,70.30 262.00,73.80 270.60,78.30 278.70,81.70 287.00,85.60 295.10,89.70 303.20,93.10 311.40,97.30 319.30,101.00" fill="none" stroke="#6060ff" stroke-width="0.7"/>
<polygon points="73.80,31.00 76.80,36.40 70.80,36.40" fill="#0000ff" stroke="#0000ff" stroke-width="0"/>
<polygon points="82.50,31.00 85.50,36.40 79.50,36.40" fill="#0000ff" stroke="#0000ff" stroke-width="0"/>
<polygon points="91.50,31.00 94.50,36.40 88.50,36.40" fill="#0000ff" stroke="#0000ff" stroke-width="0"/>
<polygon points="100.30,31.00 103.30,36.40 97.30,36.40" fill="#0000ff" stroke="#0000ff" stroke-width="0"/>
<polygon points="108.80,31.00 111.80,36.40 105.80,36.40" fill="#0000ff" stroke="#0000ff" stroke-width="0"/>
<polygon points="117.70,31.00 120.70,36.40 114.70,36.40" fill="#0000ff" stroke="#0000ff" stroke-width="0"/>
<polygon points="126.30,31.00 129.30,36.40 123.30,36.40" fill="#0000ff" stroke="#0000ff" stroke-width="0"/>
<polygon points="135.00,31.00 138.00,36.40 132.00,36.40" fill="#0000ff" stroke="#0000ff" stroke-width="0"/>
<polygon points="143.50,31.40 146.50,36.80 140.50,36.80" fill="#0000ff" stroke="#0000ff" stroke-width="0"/>
<polygon points="152.30,31.70 155.30,37.10 149.30,37.10" fill="#0000ff" stroke="#0000ff" stroke-width="0"/>
<polygon points="160.80,32.50 163.80,37.90 157.80,37.90" fill="#0000ff" stroke="#0000ff" stroke-width="0"/>
<polygon points="169.30,34.10 172.30,39.50 166.30,39.50" fill="#0000ff" stroke="#0000ff" stroke-width="0"/>
<polygon points="177.70,35.80 180.70,41.20 174.70,41.20" fill="#0000ff" stroke="#0000ff" stroke-width="0"/>
<polygon points="186.30,37.80 189.30,43.20 183.30,43.20" fill="#0000ff" stroke="#0000ff" stroke-width="0"/>
<polygon points="194.60,41.50 197.60,46.90 191.60,46.90" fill="#0000ff" stroke="#0000ff" stroke-width="0"/>
<polygon points="203.30,44.80 206.30,50.20 200.30,50.20" fill="#0000ff" stroke="#0000ff" stroke-width="0"/>
<polygon points="211.50,48.60 214.50,54.00 208.50,54.00" fill="#0000ff" stroke="#0000ff" stroke-width="0"/>
<polygon points="220.20,52.00 223.20,57.40 217.20,57.40" fill="#0000ff" stroke="#0000ff" stroke-width="0"/>
<polygon points="228.40,55.60 231.40,61.00 225.40,61.00" fill="#0000ff" stroke="#0000ff" stroke-width="0"/>
<polygon points="237.00,59.80 240.00,65.20 234.00,65.20" fill="#0000ff" stroke="#0000ff" stroke-width="0"/>
<polygon points="245.50,63.70 248.50,69.10 242.50,69.10" fill="#0000ff" stroke="#0000ff" stroke-width="0"/>
<polygon points="253.70,67.10 256.70,72.50 250.70,72.50" fill="#0000ff" stroke="#0000ff" stroke-width="0"/>
<polygon points="262.00,70.60 265.00,76.00 259.00,76.00" fill="#0000ff" stroke="#0000ff" stroke-width="0"/>
<polygon points="270.60,75.10 273.60,80.50 267.60,80.50" fill="#0000ff" stroke="#0000ff" stroke-width="0"/>
<polygon points="278.70,78.50 281.70,83.90 275.70,83.90" fill="#0000ff" stroke="#0000ff" stroke-width="0"/>
<polygon points="287.00,82.40 290.00,87.80 284.00,87.80" fill="#0000ff" stroke="#0000ff" stroke-width="0"/>
<polygon points="295.10,86.50 298.10,91.90 292.10,91.90" fill="#0000ff" stroke="#0000ff" stroke-width="0"/>
<polygon points="303.20,89.90 306.20,95.30 300.20,95.30" fill="#0000ff" stroke="#0000ff" stroke-width="0"/>
<polygon points="311.40,94.10 314.40,99.50 308.40,99.50" fill="#0000ff" stroke="#0000ff" stroke-width="0"/>
<polygon points="319.30,97.80 322.30,103.20 316.30,103.20" fill="#0000ff" stroke="#0000ff" stroke-width="0"/>
<polyline points="75.30,33.10 82.50,33.10 91.50,33.10 100.30,33.10 108.80,33.10 117.70,33.10 126.30,33.10 135.00,33.10 143.50,33.50 152.30,33.80 160.80,34.60 169.30,35.80 177.70,38.10 186.30,39.70 194.60,43.00 203.30,45.90 211.50,49.30 220.20,52.30 228.40,55.50 237.00,59.30 245.50,62.80 253.70,66.50 262.00,70.60 270.60,75.90 278.70,80.10 287.00,84.60 295.10,88.90 303.20,92.40 311.40,96.60 319.30,100.30" fill="none" stroke="#ff60ff" stroke-width="0.7"/>
<polygon points="75.30,36.30 78.30,30.90 72.30,30.90" fill="#ff00ff" stroke="#ff00ff" stroke-width="0"/>
<polygon points="82.50,36.30 85.50,30.90 79.50,30.90" fill="#ff00ff" stroke="#ff00ff" stroke-width="0"/>
<polygon points="91.50,36.30 94.50,30.90 88.50,30.90" fill="#ff00ff" stroke="#ff00ff" stroke-width="0"/>
<polygon points="100.30,36.30 103.30,30.90 97.30,30.90" fill="#ff00ff" stroke="#ff00ff" stroke-width="0"/>
<polygon points="108.80,36.30 111.80,30.90 105.80,30.90" fill="#ff00ff" stroke="#ff00ff" stroke-width="0"/>
<polygon points="117.70,36.30 120.70,30.90 114.70,30.90" fill="#ff00ff" stroke="#ff00ff" stroke-width="0"/>
<polygon points="126.30,36.30 129.30,30.90 123.30,30.90" fill="#ff00ff" stroke="#ff00ff" stroke-width="0"/>
<polygon points="135.00,36.30 138.00,30.90 132.00,30.90" fill="#ff00ff" stroke="#ff00ff" stroke-width="0"/>
<polygon points="143.50,36.70 146.50,31.30 140.50,31.30" fill="#ff00ff" stroke="#ff00ff" stroke-width="0"/>
<polygon points="152.30,37.00 155.30,31.60 149.30,31.60" fill="#ff00ff" stroke="#ff00ff" stroke-width="0"/>
<polygon points="160.80,37.80 163.80,32.40 157.80,32.40" fill="#ff00ff" stroke="#ff00ff" stroke-width="0"/>
<polygon points="169.30,39.00 172.30,33.60 166.30,33.60" fill="#ff00ff" stroke="#ff00ff" stroke-width="0"/>
<polygon points="177.70,41.30 180.70,35.90 174.70,35.90" fill="#ff00ff" stroke="#ff00ff" stroke-width="0"/>
<polygon points="186.30,42.90 189.30,37.50 183.30,37.50" fill="#ff00ff" stroke="#ff00ff" stroke-width="0"/>
<polygon points="194.60,46.20 197.60,40.80 191.60,40.80" fill="#ff00ff" stroke="#ff00ff" stroke-width="0"/>
<polygon points="203.30,49.10 206.30,43.70 200.30,43.70" fill="#ff00ff" stroke="#ff00ff" stroke-width="0"/>
<polygon points="211.50,52.50 214.50,47.10 208.50,47.10" fill="#ff00ff" stroke="#ff00ff" stroke-width="0"/>
<polygon points="220.20,55.50 223.20,50.10 217.20,50.10" fill="#ff00ff" stroke="#ff00ff" stroke-width="0"/>
<polygon points="228.40,58.70 231.40,53.30 225.40,53.30" fill="#ff00ff" stroke="#ff00ff" stroke-width="0"/>
<polygon points="237.00,62.50 240.00,57.10 234.00,57.10" fill="#ff00ff" stroke="#ff00ff" stroke-width="0"/>
<polygon points="245.50,66.00 248.50,60.60 242.50,60.60" fill="#ff00ff" stroke="#ff00ff" stroke-width="0"/>
<polygon points="253.70,69.70 256.70,64.30 250.70,64.30" fill="#ff00ff" stroke="#ff00ff" stroke-width="0"/>
<polygon points="262.00,73.80 265.00,68.40 259.00,68.40" fill="#ff00ff" stroke="#ff00ff" stroke-width="0"/>
<polygon points="270.60,79.10 273.60,73.70 267.60,73.70" fill="#ff00ff" stroke="#ff00ff" stroke-width="0"/>
<polygon points="278.70,83.30 281.70,77.90 275.70,77.90" fill="#ff00ff" stroke="#ff00ff" stroke-width="0"/>
<polygon points="287.00,87.80 290.00,82.40 284.00,82.40" fill="#ff00ff" stroke="#ff00ff" stroke-width="0"/>
<polygon points="295.10,92.10 298.10,86.70 292.10,86.70" fill="#ff00ff" stroke="#ff00ff" stroke-width="0"/>
<polygon points="303.20,95.60 306.20,90.20 300.20,90.20" fill="#ff00ff" stroke="#ff00ff" stroke-width="0"/>
<polygon points="311.40,99.80 314.40,94.40 308.40,94.40" fill="#ff00ff" stroke="#ff00ff" stroke-width="0"/>
<polygon points="319.30,103.50 322.30,98.10 316.30,98.10" fill="#ff00ff" stroke="#ff00ff" stroke-width="0"/>
<polyline points="73.80,34.00 82.50,34.00 91.50,34.00 100.30,34.00 108.80,34.00 117.70,34.00 126.30,34.00 135.00,34.00 143.50,34.40 152.30,34.70 160.80,35.50 169.30,36.70 177.70,38.80 186.30,40.40 194.60,43.70 203.30,46.60 211.50,50.00 220.20,53.00 228.40,56.20 237.00,60.00 245.50,63.50 253.70,67.20 262.00,71.30 270.60,76.60 278.70,80.80 287.00,85.30 295.10,89.60 303.20,93.10 311.40,97.30 319.30,101.00" fill="none" stroke="#40a040" stroke-width="0.7"/>
<polygon points="73.80,30.60 77.00,34.00 73.80,37.40 70.60,34.00" fill="#008000" stroke="#008000" stroke-width="0"/>
<polygon points="82.50,30.60 85.70,34.00 82.50,37.40 79.30,34.00" fill="#008000" stroke="#008000" stroke-width="0"/>
<polygon points="91.50,30.60 94.70,34.00 91.50,37.40 88.30,34.00" fill="#008000" stroke="#008000" stroke-width="0"/>
<polygon points="100.30,30.60 103.50,34.00 100.30,37.40 97.10,34.00" fill="#008000" stroke="#008000" stroke-width="0"/>
<polygon points="108.80,30.60 112.00,34.00 108.80,37.40 105.60,34.00" fill="#008000" stroke="#008000" stroke-width="0"/>
<polygon points="117.70,30.60 120.90,34.00 117.70,37.40 114.50,34.00" fill="#008000" stroke="#008000" stroke-width="0"/>
<polygon points="126.30,30.60 129.50,34.00 126.30,37.40 123.10,34.00" fill="#008000" stroke="#008000" stroke-width="0"/>
<polygon points="135.00,30.60 138.20,34.00 135.00,37.40 131.80,34.00" fill="#008000" stroke="#008000" stroke-width="0"/>
<polygon points="143.50,31.00 146.70,34.40 143.50,37.80 140.30,34.40" fill="#008000" stroke="#008000" stroke-width="0"/>
<polygon points="152.30,31.30 155.50,34.70 152.30,38.10 149.10,34.70" fill="#008000" stroke="#008000" stroke-width="0"/>
<polygon points="160.80,32.10 164.00,35.50 160.80,38.90 157.60,35.50" fill="#008000" stroke="#008000" stroke-width="0"/>
<polygon points="169.30,33.30 172.50,36.70 169.30,40.10 166.10,36.70" fill="#008000" stroke="#008000" stroke-width="0"/>
<polygon points="177.70,35.40 180.90,38.80 177.70,42.20 174.50,38.80" fill="#008000" stroke="#008000" stroke-width="0"/>
<polygon points="186.30,37.00 189.50,40.40 186.30,43.80 183.10,40.40" fill="#008000" stroke="#008000" stroke-width="0"/>
<polygon points="194.60,40.30 197.80,43.70 194.60,47.10 191.40,43.70" fill="#008000" stroke="#008000" stroke-width="0"/>
<polygon points="203.30,43.20 206.50,46.60 203.30,50.00 200.10,46.60" fill="#008000" stroke="#008000" stroke-width="0"/>
<polygon points="211.50,46.60 214.70,50.00 211.50,53.40 208.30,50.00" fill="#008000" stroke="#008000" stroke-width="0"/>
<polygon points="220.20,49.60 223.40,53.00 220.20,56.40 217.00,53.00" fill="#008000" stroke="#008000" stroke-width="0"/>
<polygon points="228.40,52.80 231.60,56.20 228.40,59.60 225.20,56.20" fill="#008000" stroke="#008000" stroke-width="0"/>
<polygon points="237.00,56.60 240.20,60.00 237.00,63.40 233.80,60.00" fill="#008000" stroke="#008000" stroke-width="0"/>
<polygon points="245.50,60.10 248.70,63.50 245.50,66.90 242.30,63.50" fill="#008000" stroke="#008000" stroke-width="0"/>
<polygon points="253.70,63.80 256.90,67.20 253.70,70.60 250.50,67.20" fill="#008000" stroke="#008000" stroke-width="0"/>
<polygon points="262.00,67.90 265.20,71.30 262.00,74.70 258.80,71.30" fill="#008000" stroke="#008000" stroke-width="0"/>
<polygon points="270.60,73.20 273.80,76.60 270.60,80.00 267.40,76.60" fill="#008000" stroke="#008000" stroke-width="0"/>
<polygon points="278.70,77.40 281.90,80.80 278.70,84.20 275.50,80.80" fill="#008000" stroke="#008000" stroke-width="0"/>
<polygon points="287.00,81.90 290.20,85.30 287.00,88.70 283.80,85.30" fill="#008000" stroke="#008000" stroke-width="0"/>
<polygon points="295.10,86.20 298.30,89.60 295.10,93.00 291.90,89.60" fill="#008000" stroke="#008000" stroke-width="0"/>
<polygon points="303.20,89.70 306.40,93.10 303.20,96.50 300.00,93.10" fill="#008000" stroke="#008000" stroke-width="0"/>
<polygon points="311.40,93.90 314.60,97.30 311.40,100.70 308.20,97.30" fill="#008000" stroke="#008000" stroke-width="0"/>
<polygon points="319.30,97.60 322.50,101.00 319.30,104.40 316.10,101.00" fill="#008000" stroke="#008000" stroke-width="0"/>
<polyline points="71.30,33.30 82.50,33.30 91.50,33.30 100.30,33.30 108.80,33.30 117.70,33.30 126.30,33.30 135.00,33.30 143.50,33.70 152.30,34.00 160.80,34.80 169.30,36.00 177.70,37.30 186.30,38.90 194.60,42.20 203.30,45.10 211.50,48.50 220.20,51.50 228.40,54.70 237.00,58.50 245.50,62.00 253.70,65.70 262.00,69.80 270.60,75.10 278.70,79.30 287.00,83.80 295.10,88.10 303.20,91.60 311.40,95.80 319.30,99.50" fill="none" stroke="#5050a0" stroke-width="0.7"/>
<polygon points="67.80,33.30 73.80,29.90 73.80,36.70" fill="#000080" stroke="#000080" stroke-width="0"/>
<polygon points="79.00,33.30 85.00,29.90 85.00,36.70" fill="#000080" stroke="#000080" stroke-width="0"/>
<polygon points="88.00,33.30 94.00,29.90 94.00,36.70" fill="#000080" stroke="#000080" stroke-width="0"/>
<polygon points="96.80,33.30 102.80,29.90 102.80,36.70" fill="#000080" stroke="#000080" stroke-width="0"/>
<polygon points="105.30,33.30 111.30,29.90 111.30,36.70" fill="#000080" stroke="#000080" stroke-width="0"/>
<polygon points="114.20,33.30 120.20,29.90 120.20,36.70" fill="#000080" stroke="#000080" stroke-width="0"/>
<polygon points="122.80,33.30 128.80,29.90 128.80,36.70" fill="#000080" stroke="#000080" stroke-width="0"/>
<polygon points="131.50,33.30 137.50,29.90 137.50,36.70" fill="#000080" stroke="#000080" stroke-width="0"/>
<polygon points="140.00,33.70 146.00,30.30 146.00,37.10" fill="#000080" stroke="#000080" stroke-width="0"/>
<polygon points="148.80,34.00 154.80,30.60 154.80,37.40" fill="#000080" stroke="#000080" stroke-width="0"/>
<polygon points="157.30,34.80 163.30,31.40 163.30,38.20" fill="#000080" stroke="#000080" stroke-width="0"/>
<polygon points="165.80,36.00 171.80,32.60 171.80,39.40" fill="#000080" stroke="#000080" stroke-width="0"/>
<polygon points="174.20,37.30 180.20,33.90 180.20,40.70" fill="#000080" stroke="#000080" stroke-width="0"/>
<polygon points="182.80,38.90 188.80,35.50 188.80,42.30" fill="#000080" stroke="#000080" stroke-width="0"/>
<polygon points="191.10,42.20 197.10,38.80 197.10,45.60" fill="#000080" stroke="#000080" stroke-width="0"/>
<polygon points="199.80,45.10 205.80,41.70 205.80,48.50" fill="#000080" stroke="#000080" stroke-width="0"/>
<polygon points="208.00,48.50 214.00,45.10 214.00,51.90" fill="#000080" stroke="#000080" stroke-width="0"/>
<polygon points="216.70,51.50 222.70,48.10 222.70,54.90" fill="#000080" stroke="#000080" stroke-width="0"/>
<polygon points="224.90,54.70 230.90,51.30 230.90,58.10" fill="#000080" stroke="#000080" stroke-width="0"/>
<polygon points="233.50,58.50 239.50,55.10 239.50,61.90" fill="#000080" stroke="#000080" stroke-width="0"/>
<polygon points="242.00,62.00 248.00,58.60 248.00,65.40" fill="#000080" stroke="#000080" stroke-width="0"/>
<polygon points="250.20,65.70 256.20,62.30 256.20,69.10" fill="#000080" stroke="#000080" stroke-width="0"/>
<polygon points="258.50,69.80 264.50,66.40 264.50,73.20" fill="#000080" stroke="#000080" stroke-width="0"/>
<polygon points="267.10,75.10 273.10,71.70 273.10,78.50" fill="#000080" stroke="#000080" stroke-width="0"/>
<polygon points="275.20,79.30 281.20,75.90 281.20,82.70" fill="#000080" stroke="#000080" stroke-width="0"/>
<polygon points="283.50,83.80 289.50,80.40 289.50,87.20" fill="#000080" stroke="#000080" stroke-width="0"/>
<polygon points="291.60,88.10 297.60,84.70 297.60,91.50" fill="#000080" stroke="#000080" stroke-width="0"/>
<polygon points="299.70,91.60 305.70,88.20 305.70,95.00" fill="#000080" stroke="#000080" stroke-width="0"/>
<polygon points="307.90,95.80 313.90,92.40 313.90,99.20" fill="#000080" stroke="#000080" stroke-width="0"/>
<polygon points="315.80,99.50 321.80,96.10 321.80,102.90" fill="#000080" stroke="#000080" stroke-width="0"/>
<rect x="426.05" y="6.9" width="287.75" height="210.70" fill="none" stroke="#111" stroke-width="1.3"/>
<line x1="422.05" y1="6.90" x2="426.05" y2="6.90" stroke="#111" stroke-width="1.1"/>
<text x="418.75" y="11.00" text-anchor="end" font-size="13" font-family="Liberation Sans, sans-serif" fill="#000" stroke="#000" stroke-width="0.25">10</text>
<line x1="423.65000000000003" y1="31.45" x2="426.05" y2="31.45" stroke="#111" stroke-width="0.9"/>
<line x1="423.65000000000003" y1="25.26" x2="426.05" y2="25.26" stroke="#111" stroke-width="0.9"/>
<line x1="423.65000000000003" y1="20.87" x2="426.05" y2="20.87" stroke="#111" stroke-width="0.9"/>
<line x1="423.65000000000003" y1="17.47" x2="426.05" y2="17.47" stroke="#111" stroke-width="0.9"/>
<line x1="423.65000000000003" y1="14.69" x2="426.05" y2="14.69" stroke="#111" stroke-width="0.9"/>
<line x1="423.65000000000003" y1="12.34" x2="426.05" y2="12.34" stroke="#111" stroke-width="0.9"/>
<line x1="423.65000000000003" y1="10.30" x2="426.05" y2="10.30" stroke="#111" stroke-width="0.9"/>
<line x1="423.65000000000003" y1="8.51" x2="426.05" y2="8.51" stroke="#111" stroke-width="0.9"/>
<line x1="422.05" y1="42.02" x2="426.05" y2="42.02" stroke="#111" stroke-width="1.1"/>
<text x="418.75" y="46.12" text-anchor="end" font-size="13" font-family="Liberation Sans, sans-serif" fill="#000" stroke="#000" stroke-width="0.25">1</text>
<line x1="423.65000000000003" y1="66.56" x2="426.05" y2="66.56" stroke="#111" stroke-width="0.9"/>
<line x1="423.65000000000003" y1="60.38" x2="426.05" y2="60.38" stroke="#111" stroke-width="0.9"/>
<line x1="423.65000000000003" y1="55.99" x2="426.05" y2="55.99" stroke="#111" stroke-width="0.9"/>
<line x1="423.65000000000003" y1="52.59" x2="426.05" y2="52.59" stroke="#111" stroke-width="0.9"/>
<line x1="423.65000000000003" y1="49.81" x2="426.05" y2="49.81" stroke="#111" stroke-width="0.9"/>
<line x1="423.65000000000003" y1="47.46" x2="426.05" y2="47.46" stroke="#111" stroke-width="0.9"/>
<line x1="423.65000000000003" y1="45.42" x2="426.05" y2="45.42" stroke="#111" stroke-width="0.9"/>
<line x1="423.65000000000003" y1="43.62" x2="426.05" y2="43.62" stroke="#111" stroke-width="0.9"/>
<line x1="422.05" y1="77.13" x2="426.05" y2="77.13" stroke="#111" stroke-width="1.1"/>
<text x="418.75" y="81.23" text-anchor="end" font-size="13" font-family="Liberation Sans, sans-serif" fill="#000" stroke="#000" stroke-width="0.25">0.1</text>
<line x1="423.65000000000003" y1="101.68" x2="426.05" y2="101.68" stroke="#111" stroke-width="0.9"/>
<line x1="423.65000000000003" y1="95.50" x2="426.05" y2="95.50" stroke="#111" stroke-width="0.9"/>
<line x1="423.65000000000003" y1="91.11" x2="426.05" y2="91.11" stroke="#111" stroke-width="0.9"/>
<line x1="423.65000000000003" y1="87.70" x2="426.05" y2="87.70" stroke="#111" stroke-width="0.9"/>
<line x1="423.65000000000003" y1="84.92" x2="426.05" y2="84.92" stroke="#111" stroke-width="0.9"/>
<line x1="423.65000000000003" y1="82.57" x2="426.05" y2="82.57" stroke="#111" stroke-width="0.9"/>
<line x1="423.65000000000003" y1="80.54" x2="426.05" y2="80.54" stroke="#111" stroke-width="0.9"/>
<line x1="423.65000000000003" y1="78.74" x2="426.05" y2="78.74" stroke="#111" stroke-width="0.9"/>
<line x1="422.05" y1="112.25" x2="426.05" y2="112.25" stroke="#111" stroke-width="1.1"/>
<text x="418.75" y="116.35" text-anchor="end" font-size="13" font-family="Liberation Sans, sans-serif" fill="#000" stroke="#000" stroke-width="0.25">0.01</text>
<line x1="423.65000000000003" y1="136.80" x2="426.05" y2="136.80" stroke="#111" stroke-width="0.9"/>
<line x1="423.65000000000003" y1="130.61" x2="426.05" y2="130.61" stroke="#111" stroke-width="0.9"/>
<line x1="423.65000000000003" y1="126.22" x2="426.05" y2="126.22" stroke="#111" stroke-width="0.9"/>
<line x1="423.65000000000003" y1="122.82" x2="426.05" y2="122.82" stroke="#111" stroke-width="0.9"/>
<line x1="423.65000000000003" y1="120.04" x2="426.05" y2="120.04" stroke="#111" stroke-width="0.9"/>
<line x1="423.65000000000003" y1="117.69" x2="426.05" y2="117.69" stroke="#111" stroke-width="0.9"/>
<line x1="423.65000000000003" y1="115.65" x2="426.05" y2="115.65" stroke="#111" stroke-width="0.9"/>
<line x1="423.65000000000003" y1="113.86" x2="426.05" y2="113.86" stroke="#111" stroke-width="0.9"/>
<line x1="422.05" y1="147.37" x2="426.05" y2="147.37" stroke="#111" stroke-width="1.1"/>
<text x="418.75" y="151.47" text-anchor="end" font-size="13" font-family="Liberation Sans, sans-serif" fill="#000" stroke="#000" stroke-width="0.25">1E-3</text>
<line x1="423.65000000000003" y1="171.91" x2="426.05" y2="171.91" stroke="#111" stroke-width="0.9"/>
<line x1="423.65000000000003" y1="165.73" x2="426.05" y2="165.73" stroke="#111" stroke-width="0.9"/>
<line x1="423.65000000000003" y1="161.34" x2="426.05" y2="161.34" stroke="#111" stroke-width="0.9"/>
<line x1="423.65000000000003" y1="157.94" x2="426.05" y2="157.94" stroke="#111" stroke-width="0.9"/>
<line x1="423.65000000000003" y1="155.16" x2="426.05" y2="155.16" stroke="#111" stroke-width="0.9"/>
<line x1="423.65000000000003" y1="152.81" x2="426.05" y2="152.81" stroke="#111" stroke-width="0.9"/>
<line x1="423.65000000000003" y1="150.77" x2="426.05" y2="150.77" stroke="#111" stroke-width="0.9"/>
<line x1="423.65000000000003" y1="148.97" x2="426.05" y2="148.97" stroke="#111" stroke-width="0.9"/>
<line x1="422.05" y1="182.48" x2="426.05" y2="182.48" stroke="#111" stroke-width="1.1"/>
<text x="418.75" y="186.58" text-anchor="end" font-size="13" font-family="Liberation Sans, sans-serif" fill="#000" stroke="#000" stroke-width="0.25">1E-4</text>
<line x1="423.65000000000003" y1="207.03" x2="426.05" y2="207.03" stroke="#111" stroke-width="0.9"/>
<line x1="423.65000000000003" y1="200.85" x2="426.05" y2="200.85" stroke="#111" stroke-width="0.9"/>
<line x1="423.65000000000003" y1="196.46" x2="426.05" y2="196.46" stroke="#111" stroke-width="0.9"/>
<line x1="423.65000000000003" y1="193.05" x2="426.05" y2="193.05" stroke="#111" stroke-width="0.9"/>
<line x1="423.65000000000003" y1="190.27" x2="426.05" y2="190.27" stroke="#111" stroke-width="0.9"/>
<line x1="423.65000000000003" y1="187.92" x2="426.05" y2="187.92" stroke="#111" stroke-width="0.9"/>
<line x1="423.65000000000003" y1="185.89" x2="426.05" y2="185.89" stroke="#111" stroke-width="0.9"/>
<line x1="423.65000000000003" y1="184.09" x2="426.05" y2="184.09" stroke="#111" stroke-width="0.9"/>
<line x1="422.05" y1="217.60" x2="426.05" y2="217.60" stroke="#111" stroke-width="1.1"/>
<text x="418.75" y="221.70" text-anchor="end" font-size="13" font-family="Liberation Sans, sans-serif" fill="#000" stroke="#000" stroke-width="0.25">1E-5</text>
<line x1="426.05" y1="217.6" x2="426.05" y2="222.4" stroke="#111" stroke-width="1.1"/>
<text x="426.05" y="235.4" text-anchor="middle" font-size="13" font-family="Liberation Sans, sans-serif" fill="#000" stroke="#000" stroke-width="0.25">1E-3</text>
<line x1="443.37" y1="217.6" x2="443.37" y2="220.29999999999998" stroke="#111" stroke-width="0.9"/>
<line x1="453.51" y1="217.6" x2="453.51" y2="220.29999999999998" stroke="#111" stroke-width="0.9"/>
<line x1="460.70" y1="217.6" x2="460.70" y2="220.29999999999998" stroke="#111" stroke-width="0.9"/>
<line x1="466.28" y1="217.6" x2="466.28" y2="220.29999999999998" stroke="#111" stroke-width="0.9"/>
<line x1="470.83" y1="217.6" x2="470.83" y2="220.29999999999998" stroke="#111" stroke-width="0.9"/>
<line x1="474.69" y1="217.6" x2="474.69" y2="220.29999999999998" stroke="#111" stroke-width="0.9"/>
<line x1="478.02" y1="217.6" x2="478.02" y2="220.29999999999998" stroke="#111" stroke-width="0.9"/>
<line x1="480.97" y1="217.6" x2="480.97" y2="220.29999999999998" stroke="#111" stroke-width="0.9"/>
<line x1="483.60" y1="217.6" x2="483.60" y2="222.4" stroke="#111" stroke-width="1.1"/>
<text x="483.60" y="235.4" text-anchor="middle" font-size="13" font-family="Liberation Sans, sans-serif" fill="#000" stroke="#000" stroke-width="0.25">0.01</text>
<line x1="500.92" y1="217.6" x2="500.92" y2="220.29999999999998" stroke="#111" stroke-width="0.9"/>
<line x1="511.06" y1="217.6" x2="511.06" y2="220.29999999999998" stroke="#111" stroke-width="0.9"/>
<line x1="518.25" y1="217.6" x2="518.25" y2="220.29999999999998" stroke="#111" stroke-width="0.9"/>
<line x1="523.83" y1="217.6" x2="523.83" y2="220.29999999999998" stroke="#111" stroke-width="0.9"/>
<line x1="528.38" y1="217.6" x2="528.38" y2="220.29999999999998" stroke="#111" stroke-width="0.9"/>
<line x1="532.24" y1="217.6" x2="532.24" y2="220.29999999999998" stroke="#111" stroke-width="0.9"/>
<line x1="535.57" y1="217.6" x2="535.57" y2="220.29999999999998" stroke="#111" stroke-width="0.9"/>
<line x1="538.52" y1="217.6" x2="538.52" y2="220.29999999999998" stroke="#111" stroke-width="0.9"/>
<line x1="541.15" y1="217.6" x2="541.15" y2="222.4" stroke="#111" stroke-width="1.1"/>
<text x="541.15" y="235.4" text-anchor="middle" font-size="13" font-family="Liberation Sans, sans-serif" fill="#000" stroke="#000" stroke-width="0.25">0.1</text>
<line x1="558.47" y1="217.6" x2="558.47" y2="220.29999999999998" stroke="#111" stroke-width="0.9"/>
<line x1="568.61" y1="217.6" x2="568.61" y2="220.29999999999998" stroke="#111" stroke-width="0.9"/>
<line x1="575.80" y1="217.6" x2="575.80" y2="220.29999999999998" stroke="#111" stroke-width="0.9"/>
<line x1="581.38" y1="217.6" x2="581.38" y2="220.29999999999998" stroke="#111" stroke-width="0.9"/>
<line x1="585.93" y1="217.6" x2="585.93" y2="220.29999999999998" stroke="#111" stroke-width="0.9"/>
<line x1="589.79" y1="217.6" x2="589.79" y2="220.29999999999998" stroke="#111" stroke-width="0.9"/>
<line x1="593.12" y1="217.6" x2="593.12" y2="220.29999999999998" stroke="#111" stroke-width="0.9"/>
<line x1="596.07" y1="217.6" x2="596.07" y2="220.29999999999998" stroke="#111" stroke-width="0.9"/>
<line x1="598.70" y1="217.6" x2="598.70" y2="222.4" stroke="#111" stroke-width="1.1"/>
<text x="598.70" y="235.4" text-anchor="middle" font-size="13" font-family="Liberation Sans, sans-serif" fill="#000" stroke="#000" stroke-width="0.25">1</text>
<line x1="616.02" y1="217.6" x2="616.02" y2="220.29999999999998" stroke="#111" stroke-width="0.9"/>
<line x1="626.16" y1="217.6" x2="626.16" y2="220.29999999999998" stroke="#111" stroke-width="0.9"/>
<line x1="633.35" y1="217.6" x2="633.35" y2="220.29999999999998" stroke="#111" stroke-width="0.9"/>
<line x1="638.93" y1="217.6" x2="638.93" y2="220.29999999999998" stroke="#111" stroke-width="0.9"/>
<line x1="643.48" y1="217.6" x2="643.48" y2="220.29999999999998" stroke="#111" stroke-width="0.9"/>
<line x1="647.34" y1="217.6" x2="647.34" y2="220.29999999999998" stroke="#111" stroke-width="0.9"/>
<line x1="650.67" y1="217.6" x2="650.67" y2="220.29999999999998" stroke="#111" stroke-width="0.9"/>
<line x1="653.62" y1="217.6" x2="653.62" y2="220.29999999999998" stroke="#111" stroke-width="0.9"/>
<line x1="656.25" y1="217.6" x2="656.25" y2="222.4" stroke="#111" stroke-width="1.1"/>
<text x="656.25" y="235.4" text-anchor="middle" font-size="13" font-family="Liberation Sans, sans-serif" fill="#000" stroke="#000" stroke-width="0.25">10</text>
<line x1="673.57" y1="217.6" x2="673.57" y2="220.29999999999998" stroke="#111" stroke-width="0.9"/>
<line x1="683.71" y1="217.6" x2="683.71" y2="220.29999999999998" stroke="#111" stroke-width="0.9"/>
<line x1="690.90" y1="217.6" x2="690.90" y2="220.29999999999998" stroke="#111" stroke-width="0.9"/>
<line x1="696.48" y1="217.6" x2="696.48" y2="220.29999999999998" stroke="#111" stroke-width="0.9"/>
<line x1="701.03" y1="217.6" x2="701.03" y2="220.29999999999998" stroke="#111" stroke-width="0.9"/>
<line x1="704.89" y1="217.6" x2="704.89" y2="220.29999999999998" stroke="#111" stroke-width="0.9"/>
<line x1="708.22" y1="217.6" x2="708.22" y2="220.29999999999998" stroke="#111" stroke-width="0.9"/>
<line x1="711.17" y1="217.6" x2="711.17" y2="220.29999999999998" stroke="#111" stroke-width="0.9"/>
<line x1="713.80" y1="217.6" x2="713.80" y2="222.4" stroke="#111" stroke-width="1.1"/>
<text x="713.80" y="235.4" text-anchor="middle" font-size="13" font-family="Liberation Sans, sans-serif" fill="#000" stroke="#000" stroke-width="0.25">100</text>
<text transform="translate(384.3,112.3) rotate(-90)" text-anchor="middle" font-size="17.2" font-family="Liberation Sans, sans-serif" fill="#000" stroke="#000" stroke-width="0.25"><tspan font-style="italic">G'</tspan> &amp; <tspan font-style="italic">G"</tspan> (MPa)</text>
<text x="569.55" y="255.3" text-anchor="middle" font-size="17" font-family="Liberation Sans, sans-serif" fill="#000" stroke="#000" stroke-width="0.25">Strain amplitude (%)</text>
<text x="681.6" y="40.4" font-size="22" font-family="Liberation Sans, sans-serif" fill="#000" stroke="#000" stroke-width="0.25">b</text>
<text x="448.7" y="132.6" font-size="9.5" font-style="italic" font-family="Liberation Sans, sans-serif" fill="#000" stroke="#000" stroke-width="0.2">G'</text>
<text x="476.0" y="132.6" font-size="9.5" font-style="italic" font-family="Liberation Sans, sans-serif" fill="#000" stroke="#000" stroke-width="0.2">G"</text>
<line x1="439.6" y1="141.70" x2="461.9" y2="141.70" stroke="#8a8a8a" stroke-width="1"/>
<line x1="468" y1="141.70" x2="491.2" y2="141.70" stroke="#8a8a8a" stroke-width="1"/>
<rect x="448.60" y="139.50" width="4.40" height="4.40" fill="#000000" stroke="#000000" stroke-width="0"/>
<rect x="477.95" y="139.95" width="3.50" height="3.50" fill="#fff" stroke="#000000" stroke-width="0.9"/>
<text x="535.5" y="145.50" text-anchor="end" font-size="10.3" font-family="Liberation Sans, sans-serif" fill="#000" stroke="#000" stroke-width="0.2">0 kA/m</text>
<line x1="439.6" y1="154.40" x2="461.9" y2="154.40" stroke="#ff6a6a" stroke-width="1"/>
<line x1="468" y1="154.40" x2="491.2" y2="154.40" stroke="#ff6a6a" stroke-width="1"/>
<circle cx="450.80" cy="154.40" r="2.4" fill="#ff0000" stroke="#ff0000" stroke-width="0"/>
<circle cx="479.70" cy="154.40" r="2.0" fill="#fff" stroke="#ff0000" stroke-width="0.9"/>
<text x="535.9" y="158.55" text-anchor="end" font-size="10.3" font-family="Liberation Sans, sans-serif" fill="#000" stroke="#000" stroke-width="0.2">82 kA/m</text>
<line x1="439.6" y1="167.50" x2="461.9" y2="167.50" stroke="#6a6aff" stroke-width="1"/>
<line x1="468" y1="167.50" x2="491.2" y2="167.50" stroke="#6a6aff" stroke-width="1"/>
<polygon points="450.80,164.30 453.80,169.70 447.80,169.70" fill="#0000ff" stroke="#0000ff" stroke-width="0"/>
<polygon points="479.70,164.30 482.70,169.70 476.70,169.70" fill="#fff" stroke="#0000ff" stroke-width="0.75"/>
<text x="537.1" y="171.60" text-anchor="end" font-size="10.3" font-family="Liberation Sans, sans-serif" fill="#000" stroke="#000" stroke-width="0.2">142 kA/m</text>
<line x1="439.6" y1="180.20" x2="461.9" y2="180.20" stroke="#ff6aff" stroke-width="1"/>
<line x1="468" y1="180.20" x2="491.2" y2="180.20" stroke="#ff6aff" stroke-width="1"/>
<polygon points="450.80,183.40 453.80,178.00 447.80,178.00" fill="#ff00ff" stroke="#ff00ff" stroke-width="0"/>
<polygon points="479.70,183.40 482.70,178.00 476.70,178.00" fill="#fff" stroke="#ff00ff" stroke-width="0.75"/>
<text x="537.7" y="184.65" text-anchor="end" font-size="10.3" font-family="Liberation Sans, sans-serif" fill="#000" stroke="#000" stroke-width="0.2">186 kA/m</text>
<line x1="439.6" y1="192.70" x2="461.9" y2="192.70" stroke="#60b060" stroke-width="1"/>
<line x1="468" y1="192.70" x2="491.2" y2="192.70" stroke="#60b060" stroke-width="1"/>
<polygon points="450.80,189.30 454.00,192.70 450.80,196.10 447.60,192.70" fill="#008000" stroke="#008000" stroke-width="0"/>
<polygon points="479.70,189.30 482.90,192.70 479.70,196.10 476.50,192.70" fill="#fff" stroke="#008000" stroke-width="0.75"/>
<text x="538.1" y="197.70" text-anchor="end" font-size="10.3" font-family="Liberation Sans, sans-serif" fill="#000" stroke="#000" stroke-width="0.2">220 kA/m</text>
<line x1="439.6" y1="205.50" x2="461.9" y2="205.50" stroke="#5a5aaa" stroke-width="1"/>
<line x1="468" y1="205.50" x2="491.2" y2="205.50" stroke="#5a5aaa" stroke-width="1"/>
<polygon points="447.30,205.50 453.30,202.10 453.30,208.90" fill="#000080" stroke="#000080" stroke-width="0"/>
<polygon points="476.30,205.50 482.10,202.20 482.10,208.80" fill="#fff" stroke="#000080" stroke-width="0.75"/>
<text x="538.7" y="210.75" text-anchor="end" font-size="10.3" font-family="Liberation Sans, sans-serif" fill="#000" stroke="#000" stroke-width="0.2">250 kA/m</text>
<polyline points="443.40,103.80 452.60,99.60 461.80,97.80 471.10,97.80 480.20,97.80 488.80,98.40 497.50,101.50 506.50,103.00 515.40,105.50 524.30,108.50 533.10,111.90 542.00,115.50 550.80,119.30 559.50,123.80 568.20,129.40 576.90,134.20 585.50,138.90 594.20,143.80 603.00,149.60 611.60,155.80 620.30,162.30 628.90,168.50 637.40,174.00 645.90,179.30 654.60,186.30 662.70,190.90 671.30,194.30 679.60,200.30 688.10,202.70" fill="none" stroke="#555555" stroke-width="0.7"/>
<rect x="441.20" y="101.60" width="4.40" height="4.40" fill="#000000" stroke="#000000" stroke-width="0"/>
<rect x="450.40" y="97.40" width="4.40" height="4.40" fill="#000000" stroke="#000000" stroke-width="0"/>
<rect x="459.60" y="95.60" width="4.40" height="4.40" fill="#000000" stroke="#000000" stroke-width="0"/>
<rect x="468.90" y="95.60" width="4.40" height="4.40" fill="#000000" stroke="#000000" stroke-width="0"/>
<rect x="478.00" y="95.60" width="4.40" height="4.40" fill="#000000" stroke="#000000" stroke-width="0"/>
<rect x="486.60" y="96.20" width="4.40" height="4.40" fill="#000000" stroke="#000000" stroke-width="0"/>
<rect x="495.30" y="99.30" width="4.40" height="4.40" fill="#000000" stroke="#000000" stroke-width="0"/>
<rect x="504.30" y="100.80" width="4.40" height="4.40" fill="#000000" stroke="#000000" stroke-width="0"/>
<rect x="513.20" y="103.30" width="4.40" height="4.40" fill="#000000" stroke="#000000" stroke-width="0"/>
<rect x="522.10" y="106.30" width="4.40" height="4.40" fill="#000000" stroke="#000000" stroke-width="0"/>
<rect x="530.90" y="109.70" width="4.40" height="4.40" fill="#000000" stroke="#000000" stroke-width="0"/>
<rect x="539.80" y="113.30" width="4.40" height="4.40" fill="#000000" stroke="#000000" stroke-width="0"/>
<rect x="548.60" y="117.10" width="4.40" height="4.40" fill="#000000" stroke="#000000" stroke-width="0"/>
<rect x="557.30" y="121.60" width="4.40" height="4.40" fill="#000000" stroke="#000000" stroke-width="0"/>
<rect x="566.00" y="127.20" width="4.40" height="4.40" fill="#000000" stroke="#000000" stroke-width="0"/>
<rect x="574.70" y="132.00" width="4.40" height="4.40" fill="#000000" stroke="#000000" stroke-width="0"/>
<rect x="583.30" y="136.70" width="4.40" height="4.40" fill="#000000" stroke="#000000" stroke-width="0"/>
<rect x="592.00" y="141.60" width="4.40" height="4.40" fill="#000000" stroke="#000000" stroke-width="0"/>
<rect x="600.80" y="147.40" width="4.40" height="4.40" fill="#000000" stroke="#000000" stroke-width="0"/>
<rect x="609.40" y="153.60" width="4.40" height="4.40" fill="#000000" stroke="#000000" stroke-width="0"/>
<rect x="618.10" y="160.10" width="4.40" height="4.40" fill="#000000" stroke="#000000" stroke-width="0"/>
<rect x="626.70" y="166.30" width="4.40" height="4.40" fill="#000000" stroke="#000000" stroke-width="0"/>
<rect x="635.20" y="171.80" width="4.40" height="4.40" fill="#000000" stroke="#000000" stroke-width="0"/>
<rect x="643.70" y="177.10" width="4.40" height="4.40" fill="#000000" stroke="#000000" stroke-width="0"/>
<rect x="652.40" y="184.10" width="4.40" height="4.40" fill="#000000" stroke="#000000" stroke-width="0"/>
<rect x="660.50" y="188.70" width="4.40" height="4.40" fill="#000000" stroke="#000000" stroke-width="0"/>
<rect x="669.10" y="192.10" width="4.40" height="4.40" fill="#000000" stroke="#000000" stroke-width="0"/>
<rect x="677.40" y="198.10" width="4.40" height="4.40" fill="#000000" stroke="#000000" stroke-width="0"/>
<rect x="685.90" y="200.50" width="4.40" height="4.40" fill="#000000" stroke="#000000" stroke-width="0"/>
<polyline points="443.40,118.40 452.60,119.30 461.80,118.50 471.10,118.80 480.20,119.20 488.80,119.20 497.50,119.90 506.50,120.00 515.40,120.80 524.30,121.90 533.10,123.00 542.00,123.90 550.80,125.50 559.50,127.60 568.20,129.90 576.90,131.70 585.50,135.00 594.20,138.00 603.00,141.50 611.60,145.00 620.30,148.20 628.90,151.60 637.40,155.10 645.90,158.50 654.60,162.00 662.70,165.00 671.30,168.00 679.60,170.80 688.10,173.60" fill="none" stroke="#555555" stroke-width="0.7"/>
<rect x="441.65" y="116.65" width="3.50" height="3.50" fill="#fff" stroke="#000000" stroke-width="0.9"/>
<rect x="450.85" y="117.55" width="3.50" height="3.50" fill="#fff" stroke="#000000" stroke-width="0.9"/>
<rect x="460.05" y="116.75" width="3.50" height="3.50" fill="#fff" stroke="#000000" stroke-width="0.9"/>
<rect x="469.35" y="117.05" width="3.50" height="3.50" fill="#fff" stroke="#000000" stroke-width="0.9"/>
<rect x="478.45" y="117.45" width="3.50" height="3.50" fill="#fff" stroke="#000000" stroke-width="0.9"/>
<rect x="487.05" y="117.45" width="3.50" height="3.50" fill="#fff" stroke="#000000" stroke-width="0.9"/>
<rect x="495.75" y="118.15" width="3.50" height="3.50" fill="#fff" stroke="#000000" stroke-width="0.9"/>
<rect x="504.75" y="118.25" width="3.50" height="3.50" fill="#fff" stroke="#000000" stroke-width="0.9"/>
<rect x="513.65" y="119.05" width="3.50" height="3.50" fill="#fff" stroke="#000000" stroke-width="0.9"/>
<rect x="522.55" y="120.15" width="3.50" height="3.50" fill="#fff" stroke="#000000" stroke-width="0.9"/>
<rect x="531.35" y="121.25" width="3.50" height="3.50" fill="#fff" stroke="#000000" stroke-width="0.9"/>
<rect x="540.25" y="122.15" width="3.50" height="3.50" fill="#fff" stroke="#000000" stroke-width="0.9"/>
<rect x="549.05" y="123.75" width="3.50" height="3.50" fill="#fff" stroke="#000000" stroke-width="0.9"/>
<rect x="557.75" y="125.85" width="3.50" height="3.50" fill="#fff" stroke="#000000" stroke-width="0.9"/>
<rect x="566.45" y="128.15" width="3.50" height="3.50" fill="#fff" stroke="#000000" stroke-width="0.9"/>
<rect x="575.15" y="129.95" width="3.50" height="3.50" fill="#fff" stroke="#000000" stroke-width="0.9"/>
<rect x="583.75" y="133.25" width="3.50" height="3.50" fill="#fff" stroke="#000000" stroke-width="0.9"/>
<rect x="592.45" y="136.25" width="3.50" height="3.50" fill="#fff" stroke="#000000" stroke-width="0.9"/>
<rect x="601.25" y="139.75" width="3.50" height="3.50" fill="#fff" stroke="#000000" stroke-width="0.9"/>
<rect x="609.85" y="143.25" width="3.50" height="3.50" fill="#fff" stroke="#000000" stroke-width="0.9"/>
<rect x="618.55" y="146.45" width="3.50" height="3.50" fill="#fff" stroke="#000000" stroke-width="0.9"/>
<rect x="627.15" y="149.85" width="3.50" height="3.50" fill="#fff" stroke="#000000" stroke-width="0.9"/>
<rect x="635.65" y="153.35" width="3.50" height="3.50" fill="#fff" stroke="#000000" stroke-width="0.9"/>
<rect x="644.15" y="156.75" width="3.50" height="3.50" fill="#fff" stroke="#000000" stroke-width="0.9"/>
<rect x="652.85" y="160.25" width="3.50" height="3.50" fill="#fff" stroke="#000000" stroke-width="0.9"/>
<rect x="660.95" y="163.25" width="3.50" height="3.50" fill="#fff" stroke="#000000" stroke-width="0.9"/>
<rect x="669.55" y="166.25" width="3.50" height="3.50" fill="#fff" stroke="#000000" stroke-width="0.9"/>
<rect x="677.85" y="169.05" width="3.50" height="3.50" fill="#fff" stroke="#000000" stroke-width="0.9"/>
<rect x="686.35" y="171.85" width="3.50" height="3.50" fill="#fff" stroke="#000000" stroke-width="0.9"/>
<polyline points="443.40,43.90 452.60,43.90 461.80,43.90 471.10,44.00 480.20,44.20 488.80,44.50 497.50,45.30 506.50,45.80 515.40,46.80 524.30,48.30 533.10,50.80 542.00,53.80 550.80,57.20 559.50,60.80 568.20,65.00 576.90,69.50 585.50,74.20 593.30,78.30 601.90,81.30 610.30,85.40 618.60,89.30 626.50,93.80 635.20,98.70 643.50,104.60 651.50,109.30" fill="none" stroke="#ff5050" stroke-width="0.7"/>
<circle cx="443.40" cy="43.90" r="2.4" fill="#ff0000" stroke="#ff0000" stroke-width="0"/>
<circle cx="452.60" cy="43.90" r="2.4" fill="#ff0000" stroke="#ff0000" stroke-width="0"/>
<circle cx="461.80" cy="43.90" r="2.4" fill="#ff0000" stroke="#ff0000" stroke-width="0"/>
<circle cx="471.10" cy="44.00" r="2.4" fill="#ff0000" stroke="#ff0000" stroke-width="0"/>
<circle cx="480.20" cy="44.20" r="2.4" fill="#ff0000" stroke="#ff0000" stroke-width="0"/>
<circle cx="488.80" cy="44.50" r="2.4" fill="#ff0000" stroke="#ff0000" stroke-width="0"/>
<circle cx="497.50" cy="45.30" r="2.4" fill="#ff0000" stroke="#ff0000" stroke-width="0"/>
<circle cx="506.50" cy="45.80" r="2.4" fill="#ff0000" stroke="#ff0000" stroke-width="0"/>
<circle cx="515.40" cy="46.80" r="2.4" fill="#ff0000" stroke="#ff0000" stroke-width="0"/>
<circle cx="524.30" cy="48.30" r="2.4" fill="#ff0000" stroke="#ff0000" stroke-width="0"/>
<circle cx="533.10" cy="50.80" r="2.4" fill="#ff0000" stroke="#ff0000" stroke-width="0"/>
<circle cx="542.00" cy="53.80" r="2.4" fill="#ff0000" stroke="#ff0000" stroke-width="0"/>
<circle cx="550.80" cy="57.20" r="2.4" fill="#ff0000" stroke="#ff0000" stroke-width="0"/>
<circle cx="559.50" cy="60.80" r="2.4" fill="#ff0000" stroke="#ff0000" stroke-width="0"/>
<circle cx="568.20" cy="65.00" r="2.4" fill="#ff0000" stroke="#ff0000" stroke-width="0"/>
<circle cx="576.90" cy="69.50" r="2.4" fill="#ff0000" stroke="#ff0000" stroke-width="0"/>
<circle cx="585.50" cy="74.20" r="2.4" fill="#ff0000" stroke="#ff0000" stroke-width="0"/>
<circle cx="593.30" cy="78.30" r="2.4" fill="#ff0000" stroke="#ff0000" stroke-width="0"/>
<circle cx="601.90" cy="81.30" r="2.4" fill="#ff0000" stroke="#ff0000" stroke-width="0"/>
<circle cx="610.30" cy="85.40" r="2.4" fill="#ff0000" stroke="#ff0000" stroke-width="0"/>
<circle cx="618.60" cy="89.30" r="2.4" fill="#ff0000" stroke="#ff0000" stroke-width="0"/>
<circle cx="626.50" cy="93.80" r="2.4" fill="#ff0000" stroke="#ff0000" stroke-width="0"/>
<circle cx="635.20" cy="98.70" r="2.4" fill="#ff0000" stroke="#ff0000" stroke-width="0"/>
<circle cx="643.50" cy="104.60" r="2.4" fill="#ff0000" stroke="#ff0000" stroke-width="0"/>
<circle cx="651.50" cy="109.30" r="2.4" fill="#ff0000" stroke="#ff0000" stroke-width="0"/>
<polyline points="443.40,89.00 452.60,89.00 461.80,89.30 471.10,89.30 480.20,89.00 488.80,88.00 497.50,85.50 506.50,82.30 515.40,79.20 524.30,76.30 533.10,74.20 542.00,72.60 550.80,72.30 559.50,72.70 568.20,74.70 576.90,77.80 585.50,80.40 592.90,83.30 601.50,86.50 610.20,90.00 618.50,93.80 626.50,97.70 634.60,101.20 643.50,105.40 651.50,110.20" fill="none" stroke="#ff5050" stroke-width="0.7"/>
<circle cx="443.40" cy="89.00" r="2.0" fill="#fff" stroke="#ff0000" stroke-width="0.9"/>
<circle cx="452.60" cy="89.00" r="2.0" fill="#fff" stroke="#ff0000" stroke-width="0.9"/>
<circle cx="461.80" cy="89.30" r="2.0" fill="#fff" stroke="#ff0000" stroke-width="0.9"/>
<circle cx="471.10" cy="89.30" r="2.0" fill="#fff" stroke="#ff0000" stroke-width="0.9"/>
<circle cx="480.20" cy="89.00" r="2.0" fill="#fff" stroke="#ff0000" stroke-width="0.9"/>
<circle cx="488.80" cy="88.00" r="2.0" fill="#fff" stroke="#ff0000" stroke-width="0.9"/>
<circle cx="497.50" cy="85.50" r="2.0" fill="#fff" stroke="#ff0000" stroke-width="0.9"/>
<circle cx="506.50" cy="82.30" r="2.0" fill="#fff" stroke="#ff0000" stroke-width="0.9"/>
<circle cx="515.40" cy="79.20" r="2.0" fill="#fff" stroke="#ff0000" stroke-width="0.9"/>
<circle cx="524.30" cy="76.30" r="2.0" fill="#fff" stroke="#ff0000" stroke-width="0.9"/>
<circle cx="533.10" cy="74.20" r="2.0" fill="#fff" stroke="#ff0000" stroke-width="0.9"/>
<circle cx="542.00" cy="72.60" r="2.0" fill="#fff" stroke="#ff0000" stroke-width="0.9"/>
<circle cx="550.80" cy="72.30" r="2.0" fill="#fff" stroke="#ff0000" stroke-width="0.9"/>
<circle cx="559.50" cy="72.70" r="2.0" fill="#fff" stroke="#ff0000" stroke-width="0.9"/>
<circle cx="568.20" cy="74.70" r="2.0" fill="#fff" stroke="#ff0000" stroke-width="0.9"/>
<circle cx="576.90" cy="77.80" r="2.0" fill="#fff" stroke="#ff0000" stroke-width="0.9"/>
<circle cx="585.50" cy="80.40" r="2.0" fill="#fff" stroke="#ff0000" stroke-width="0.9"/>
<circle cx="592.90" cy="83.30" r="2.0" fill="#fff" stroke="#ff0000" stroke-width="0.9"/>
<circle cx="601.50" cy="86.50" r="2.0" fill="#fff" stroke="#ff0000" stroke-width="0.9"/>
<circle cx="610.20" cy="90.00" r="2.0" fill="#fff" stroke="#ff0000" stroke-width="0.9"/>
<circle cx="618.50" cy="93.80" r="2.0" fill="#fff" stroke="#ff0000" stroke-width="0.9"/>
<circle cx="626.50" cy="97.70" r="2.0" fill="#fff" stroke="#ff0000" stroke-width="0.9"/>
<circle cx="634.60" cy="101.20" r="2.0" fill="#fff" stroke="#ff0000" stroke-width="0.9"/>
<circle cx="643.50" cy="105.40" r="2.0" fill="#fff" stroke="#ff0000" stroke-width="0.9"/>
<circle cx="651.50" cy="110.20" r="2.0" fill="#fff" stroke="#ff0000" stroke-width="0.9"/>
<polyline points="443.40,84.50 452.60,84.50 461.80,84.50 471.10,84.50 480.20,84.50 488.80,84.00 497.50,81.40 506.50,78.80 515.40,76.10 524.30,72.20 533.10,70.10 542.00,68.50 550.80,67.60 559.50,66.50 568.20,66.30 576.90,68.00 585.50,70.00 594.20,72.70 603.00,75.90 611.60,79.25 620.30,83.00 628.90,86.95 637.40,91.00 645.90,95.25 654.60,99.50 662.70,103.45 671.30,107.40 679.60,110.95 688.10,114.70" fill="none" stroke="#6060ff" stroke-width="0.7"/>
<polygon points="443.40,81.30 446.40,86.70 440.40,86.70" fill="#fff" stroke="#0000ff" stroke-width="0.75"/>
<polygon points="452.60,81.30 455.60,86.70 449.60,86.70" fill="#fff" stroke="#0000ff" stroke-width="0.75"/>
<polygon points="461.80,81.30 464.80,86.70 458.80,86.70" fill="#fff" stroke="#0000ff" stroke-width="0.75"/>
<polygon points="471.10,81.30 474.10,86.70 468.10,86.70" fill="#fff" stroke="#0000ff" stroke-width="0.75"/>
<polygon points="480.20,81.30 483.20,86.70 477.20,86.70" fill="#fff" stroke="#0000ff" stroke-width="0.75"/>
<polygon points="488.80,80.80 491.80,86.20 485.80,86.20" fill="#fff" stroke="#0000ff" stroke-width="0.75"/>
<polygon points="497.50,78.20 500.50,83.60 494.50,83.60" fill="#fff" stroke="#0000ff" stroke-width="0.75"/>
<polygon points="506.50,75.60 509.50,81.00 503.50,81.00" fill="#fff" stroke="#0000ff" stroke-width="0.75"/>
<polygon points="515.40,72.90 518.40,78.30 512.40,78.30" fill="#fff" stroke="#0000ff" stroke-width="0.75"/>
<polygon points="524.30,69.00 527.30,74.40 521.30,74.40" fill="#fff" stroke="#0000ff" stroke-width="0.75"/>
<polygon points="533.10,66.90 536.10,72.30 530.10,72.30" fill="#fff" stroke="#0000ff" stroke-width="0.75"/>
<polygon points="542.00,65.30 545.00,70.70 539.00,70.70" fill="#fff" stroke="#0000ff" stroke-width="0.75"/>
<polygon points="550.80,64.40 553.80,69.80 547.80,69.80" fill="#fff" stroke="#0000ff" stroke-width="0.75"/>
<polygon points="559.50,63.30 562.50,68.70 556.50,68.70" fill="#fff" stroke="#0000ff" stroke-width="0.75"/>
<polygon points="568.20,63.10 571.20,68.50 565.20,68.50" fill="#fff" stroke="#0000ff" stroke-width="0.75"/>
<polygon points="576.90,64.80 579.90,70.20 573.90,70.20" fill="#fff" stroke="#0000ff" stroke-width="0.75"/>
<polygon points="585.50,66.80 588.50,72.20 582.50,72.20" fill="#fff" stroke="#0000ff" stroke-width="0.75"/>
<polygon points="594.20,69.50 597.20,74.90 591.20,74.90" fill="#fff" stroke="#0000ff" stroke-width="0.75"/>
<polygon points="603.00,72.70 606.00,78.10 600.00,78.10" fill="#fff" stroke="#0000ff" stroke-width="0.75"/>
<polygon points="611.60,76.05 614.60,81.45 608.60,81.45" fill="#fff" stroke="#0000ff" stroke-width="0.75"/>
<polygon points="620.30,79.80 623.30,85.20 617.30,85.20" fill="#fff" stroke="#0000ff" stroke-width="0.75"/>
<polygon points="628.90,83.75 631.90,89.15 625.90,89.15" fill="#fff" stroke="#0000ff" stroke-width="0.75"/>
<polygon points="637.40,87.80 640.40,93.20 634.40,93.20" fill="#fff" stroke="#0000ff" stroke-width="0.75"/>
<polygon points="645.90,92.05 648.90,97.45 642.90,97.45" fill="#fff" stroke="#0000ff" stroke-width="0.75"/>
<polygon points="654.60,96.30 657.60,101.70 651.60,101.70" fill="#fff" stroke="#0000ff" stroke-width="0.75"/>
<polygon points="662.70,100.25 665.70,105.65 659.70,105.65" fill="#fff" stroke="#0000ff" stroke-width="0.75"/>
<polygon points="671.30,104.20 674.30,109.60 668.30,109.60" fill="#fff" stroke="#0000ff" stroke-width="0.75"/>
<polygon points="679.60,107.75 682.60,113.15 676.60,113.15" fill="#fff" stroke="#0000ff" stroke-width="0.75"/>
<polygon points="688.10,111.50 691.10,116.90 685.10,116.90" fill="#fff" stroke="#0000ff" stroke-width="0.75"/>
<polyline points="443.40,86.00 452.60,86.00 461.80,86.00 471.10,86.00 480.20,86.00 488.80,85.50 497.50,82.90 506.50,80.30 515.40,76.60 524.30,72.70 533.10,70.60 542.00,68.60 550.80,67.30 559.50,65.80 568.20,65.20 576.90,66.50 585.50,68.10 594.20,70.40 603.00,73.20 611.60,75.80 620.30,78.80 628.90,82.00 637.40,85.30 645.90,88.80 654.60,92.30 662.70,95.50 671.30,98.70 679.60,101.50 688.10,104.50" fill="none" stroke="#ff60ff" stroke-width="0.7"/>
<polygon points="443.40,89.20 446.40,83.80 440.40,83.80" fill="#fff" stroke="#ff00ff" stroke-width="0.75"/>
<polygon points="452.60,89.20 455.60,83.80 449.60,83.80" fill="#fff" stroke="#ff00ff" stroke-width="0.75"/>
<polygon points="461.80,89.20 464.80,83.80 458.80,83.80" fill="#fff" stroke="#ff00ff" stroke-width="0.75"/>
<polygon points="471.10,89.20 474.10,83.80 468.10,83.80" fill="#fff" stroke="#ff00ff" stroke-width="0.75"/>
<polygon points="480.20,89.20 483.20,83.80 477.20,83.80" fill="#fff" stroke="#ff00ff" stroke-width="0.75"/>
<polygon points="488.80,88.70 491.80,83.30 485.80,83.30" fill="#fff" stroke="#ff00ff" stroke-width="0.75"/>
<polygon points="497.50,86.10 500.50,80.70 494.50,80.70" fill="#fff" stroke="#ff00ff" stroke-width="0.75"/>
<polygon points="506.50,83.50 509.50,78.10 503.50,78.10" fill="#fff" stroke="#ff00ff" stroke-width="0.75"/>
<polygon points="515.40,79.80 518.40,74.40 512.40,74.40" fill="#fff" stroke="#ff00ff" stroke-width="0.75"/>
<polygon points="524.30,75.90 527.30,70.50 521.30,70.50" fill="#fff" stroke="#ff00ff" stroke-width="0.75"/>
<polygon points="533.10,73.80 536.10,68.40 530.10,68.40" fill="#fff" stroke="#ff00ff" stroke-width="0.75"/>
<polygon points="542.00,71.80 545.00,66.40 539.00,66.40" fill="#fff" stroke="#ff00ff" stroke-width="0.75"/>
<polygon points="550.80,70.50 553.80,65.10 547.80,65.10" fill="#fff" stroke="#ff00ff" stroke-width="0.75"/>
<polygon points="559.50,69.00 562.50,63.60 556.50,63.60" fill="#fff" stroke="#ff00ff" stroke-width="0.75"/>
<polygon points="568.20,68.40 571.20,63.00 565.20,63.00" fill="#fff" stroke="#ff00ff" stroke-width="0.75"/>
<polygon points="576.90,69.70 579.90,64.30 573.90,64.30" fill="#fff" stroke="#ff00ff" stroke-width="0.75"/>
<polygon points="585.50,71.30 588.50,65.90 582.50,65.90" fill="#fff" stroke="#ff00ff" stroke-width="0.75"/>
<polygon points="594.20,73.60 597.20,68.20 591.20,68.20" fill="#fff" stroke="#ff00ff" stroke-width="0.75"/>
<polygon points="603.00,76.40 606.00,71.00 600.00,71.00" fill="#fff" stroke="#ff00ff" stroke-width="0.75"/>
<polygon points="611.60,79.00 614.60,73.60 608.60,73.60" fill="#fff" stroke="#ff00ff" stroke-width="0.75"/>
<polygon points="620.30,82.00 623.30,76.60 617.30,76.60" fill="#fff" stroke="#ff00ff" stroke-width="0.75"/>
<polygon points="628.90,85.20 631.90,79.80 625.90,79.80" fill="#fff" stroke="#ff00ff" stroke-width="0.75"/>
<polygon points="637.40,88.50 640.40,83.10 634.40,83.10" fill="#fff" stroke="#ff00ff" stroke-width="0.75"/>
<polygon points="645.90,92.00 648.90,86.60 642.90,86.60" fill="#fff" stroke="#ff00ff" stroke-width="0.75"/>
<polygon points="654.60,95.50 657.60,90.10 651.60,90.10" fill="#fff" stroke="#ff00ff" stroke-width="0.75"/>
<polygon points="662.70,98.70 665.70,93.30 659.70,93.30" fill="#fff" stroke="#ff00ff" stroke-width="0.75"/>
<polygon points="671.30,101.90 674.30,96.50 668.30,96.50" fill="#fff" stroke="#ff00ff" stroke-width="0.75"/>
<polygon points="679.60,104.70 682.60,99.30 676.60,99.30" fill="#fff" stroke="#ff00ff" stroke-width="0.75"/>
<polygon points="688.10,107.70 691.10,102.30 685.10,102.30" fill="#fff" stroke="#ff00ff" stroke-width="0.75"/>
<polyline points="443.40,92.50 452.60,93.20 461.80,93.60 471.10,92.50 480.20,91.00 488.80,89.60 497.50,88.30 506.50,84.90 515.40,80.90 524.30,78.20 533.10,75.50 542.00,72.80 550.80,70.40 559.50,68.80 568.20,68.20 576.90,69.50 585.50,71.10 594.20,73.40 603.00,76.20 611.60,78.80 620.30,81.80 628.90,85.00 637.40,88.30 645.90,91.80 654.60,95.30 662.70,98.50 671.30,101.70 679.60,104.50 688.10,107.50" fill="none" stroke="#40a040" stroke-width="0.7"/>
<polygon points="443.40,89.10 446.60,92.50 443.40,95.90 440.20,92.50" fill="#fff" stroke="#008000" stroke-width="0.75"/>
<polygon points="452.60,89.80 455.80,93.20 452.60,96.60 449.40,93.20" fill="#fff" stroke="#008000" stroke-width="0.75"/>
<polygon points="461.80,90.20 465.00,93.60 461.80,97.00 458.60,93.60" fill="#fff" stroke="#008000" stroke-width="0.75"/>
<polygon points="471.10,89.10 474.30,92.50 471.10,95.90 467.90,92.50" fill="#fff" stroke="#008000" stroke-width="0.75"/>
<polygon points="480.20,87.60 483.40,91.00 480.20,94.40 477.00,91.00" fill="#fff" stroke="#008000" stroke-width="0.75"/>
<polygon points="488.80,86.20 492.00,89.60 488.80,93.00 485.60,89.60" fill="#fff" stroke="#008000" stroke-width="0.75"/>
<polygon points="497.50,84.90 500.70,88.30 497.50,91.70 494.30,88.30" fill="#fff" stroke="#008000" stroke-width="0.75"/>
<polygon points="506.50,81.50 509.70,84.90 506.50,88.30 503.30,84.90" fill="#fff" stroke="#008000" stroke-width="0.75"/>
<polygon points="515.40,77.50 518.60,80.90 515.40,84.30 512.20,80.90" fill="#fff" stroke="#008000" stroke-width="0.75"/>
<polygon points="524.30,74.80 527.50,78.20 524.30,81.60 521.10,78.20" fill="#fff" stroke="#008000" stroke-width="0.75"/>
<polygon points="533.10,72.10 536.30,75.50 533.10,78.90 529.90,75.50" fill="#fff" stroke="#008000" stroke-width="0.75"/>
<polygon points="542.00,69.40 545.20,72.80 542.00,76.20 538.80,72.80" fill="#fff" stroke="#008000" stroke-width="0.75"/>
<polygon points="550.80,67.00 554.00,70.40 550.80,73.80 547.60,70.40" fill="#fff" stroke="#008000" stroke-width="0.75"/>
<polygon points="559.50,65.40 562.70,68.80 559.50,72.20 556.30,68.80" fill="#fff" stroke="#008000" stroke-width="0.75"/>
<polygon points="568.20,64.80 571.40,68.20 568.20,71.60 565.00,68.20" fill="#fff" stroke="#008000" stroke-width="0.75"/>
<polygon points="576.90,66.10 580.10,69.50 576.90,72.90 573.70,69.50" fill="#fff" stroke="#008000" stroke-width="0.75"/>
<polygon points="585.50,67.70 588.70,71.10 585.50,74.50 582.30,71.10" fill="#fff" stroke="#008000" stroke-width="0.75"/>
<polygon points="594.20,70.00 597.40,73.40 594.20,76.80 591.00,73.40" fill="#fff" stroke="#008000" stroke-width="0.75"/>
<polygon points="603.00,72.80 606.20,76.20 603.00,79.60 599.80,76.20" fill="#fff" stroke="#008000" stroke-width="0.75"/>
<polygon points="611.60,75.40 614.80,78.80 611.60,82.20 608.40,78.80" fill="#fff" stroke="#008000" stroke-width="0.75"/>
<polygon points="620.30,78.40 623.50,81.80 620.30,85.20 617.10,81.80" fill="#fff" stroke="#008000" stroke-width="0.75"/>
<polygon points="628.90,81.60 632.10,85.00 628.90,88.40 625.70,85.00" fill="#fff" stroke="#008000" stroke-width="0.75"/>
<polygon points="637.40,84.90 640.60,88.30 637.40,91.70 634.20,88.30" fill="#fff" stroke="#008000" stroke-width="0.75"/>
<polygon points="645.90,88.40 649.10,91.80 645.90,95.20 642.70,91.80" fill="#fff" stroke="#008000" stroke-width="0.75"/>
<polygon points="654.60,91.90 657.80,95.30 654.60,98.70 651.40,95.30" fill="#fff" stroke="#008000" stroke-width="0.75"/>
<polygon points="662.70,95.10 665.90,98.50 662.70,101.90 659.50,98.50" fill="#fff" stroke="#008000" stroke-width="0.75"/>
<polygon points="671.30,98.30 674.50,101.70 671.30,105.10 668.10,101.70" fill="#fff" stroke="#008000" stroke-width="0.75"/>
<polygon points="679.60,101.10 682.80,104.50 679.60,107.90 676.40,104.50" fill="#fff" stroke="#008000" stroke-width="0.75"/>
<polygon points="688.10,104.10 691.30,107.50 688.10,110.90 684.90,107.50" fill="#fff" stroke="#008000" stroke-width="0.75"/>
<polyline points="443.40,85.00 452.60,85.00 461.80,85.00 471.10,85.00 480.20,85.00 488.80,84.50 497.50,81.90 506.50,79.30 515.40,76.60 524.30,72.70 533.10,70.60 542.00,68.60 550.80,67.30 559.50,65.80 568.20,65.20 576.90,66.50 585.50,68.10 594.20,70.40 603.00,73.20 611.60,75.80 620.30,78.80 628.90,82.00 637.40,85.30 645.90,88.80 654.60,92.30 662.70,95.50 671.30,98.70 679.60,101.50 688.10,104.50" fill="none" stroke="#5050a0" stroke-width="0.7"/>
<polygon points="440.00,85.00 445.80,81.70 445.80,88.30" fill="#fff" stroke="#000080" stroke-width="0.75"/>
<polygon points="449.20,85.00 455.00,81.70 455.00,88.30" fill="#fff" stroke="#000080" stroke-width="0.75"/>
<polygon points="458.40,85.00 464.20,81.70 464.20,88.30" fill="#fff" stroke="#000080" stroke-width="0.75"/>
<polygon points="467.70,85.00 473.50,81.70 473.50,88.30" fill="#fff" stroke="#000080" stroke-width="0.75"/>
<polygon points="476.80,85.00 482.60,81.70 482.60,88.30" fill="#fff" stroke="#000080" stroke-width="0.75"/>
<polygon points="485.40,84.50 491.20,81.20 491.20,87.80" fill="#fff" stroke="#000080" stroke-width="0.75"/>
<polygon points="494.10,81.90 499.90,78.60 499.90,85.20" fill="#fff" stroke="#000080" stroke-width="0.75"/>
<polygon points="503.10,79.30 508.90,76.00 508.90,82.60" fill="#fff" stroke="#000080" stroke-width="0.75"/>
<polygon points="512.00,76.60 517.80,73.30 517.80,79.90" fill="#fff" stroke="#000080" stroke-width="0.75"/>
<polygon points="520.90,72.70 526.70,69.40 526.70,76.00" fill="#fff" stroke="#000080" stroke-width="0.75"/>
<polygon points="529.70,70.60 535.50,67.30 535.50,73.90" fill="#fff" stroke="#000080" stroke-width="0.75"/>
<polygon points="538.60,68.60 544.40,65.30 544.40,71.90" fill="#fff" stroke="#000080" stroke-width="0.75"/>
<polygon points="547.40,67.30 553.20,64.00 553.20,70.60" fill="#fff" stroke="#000080" stroke-width="0.75"/>
<polygon points="556.10,65.80 561.90,62.50 561.90,69.10" fill="#fff" stroke="#000080" stroke-width="0.75"/>
<polygon points="564.80,65.20 570.60,61.90 570.60,68.50" fill="#fff" stroke="#000080" stroke-width="0.75"/>
<polygon points="573.50,66.50 579.30,63.20 579.30,69.80" fill="#fff" stroke="#000080" stroke-width="0.75"/>
<polygon points="582.10,68.10 587.90,64.80 587.90,71.40" fill="#fff" stroke="#000080" stroke-width="0.75"/>
<polygon points="590.80,70.40 596.60,67.10 596.60,73.70" fill="#fff" stroke="#000080" stroke-width="0.75"/>
<polygon points="599.60,73.20 605.40,69.90 605.40,76.50" fill="#fff" stroke="#000080" stroke-width="0.75"/>
<polygon points="608.20,75.80 614.00,72.50 614.00,79.10" fill="#fff" stroke="#000080" stroke-width="0.75"/>
<polygon points="616.90,78.80 622.70,75.50 622.70,82.10" fill="#fff" stroke="#000080" stroke-width="0.75"/>
<polygon points="625.50,82.00 631.30,78.70 631.30,85.30" fill="#fff" stroke="#000080" stroke-width="0.75"/>
<polygon points="634.00,85.30 639.80,82.00 639.80,88.60" fill="#fff" stroke="#000080" stroke-width="0.75"/>
<polygon points="642.50,88.80 648.30,85.50 648.30,92.10" fill="#fff" stroke="#000080" stroke-width="0.75"/>
<polygon points="651.20,92.30 657.00,89.00 657.00,95.60" fill="#fff" stroke="#000080" stroke-width="0.75"/>
<polygon points="659.30,95.50 665.10,92.20 665.10,98.80" fill="#fff" stroke="#000080" stroke-width="0.75"/>
<polygon points="667.90,98.70 673.70,95.40 673.70,102.00" fill="#fff" stroke="#000080" stroke-width="0.75"/>
<polygon points="676.20,101.50 682.00,98.20 682.00,104.80" fill="#fff" stroke="#000080" stroke-width="0.75"/>
<polygon points="684.70,104.50 690.50,101.20 690.50,107.80" fill="#fff" stroke="#000080" stroke-width="0.75"/>
<polyline points="443.40,38.40 452.60,38.40 461.80,38.40 471.10,38.50 480.20,38.70 488.80,38.90 497.50,39.60 506.50,39.80 515.40,40.30 524.30,40.80 533.10,41.80 542.00,43.40 550.80,44.90 559.50,48.30 568.20,52.50 576.90,57.00 585.50,62.20 594.20,67.10 603.00,70.40 611.60,74.00 620.30,77.80 628.90,82.00 637.40,86.10 645.90,90.00 654.60,94.00 662.70,97.00 671.30,100.40 679.60,104.60 688.10,108.50" fill="none" stroke="#6060ff" stroke-width="0.7"/>
<polygon points="443.40,35.20 446.40,40.60 440.40,40.60" fill="#0000ff" stroke="#0000ff" stroke-width="0"/>
<polygon points="452.60,35.20 455.60,40.60 449.60,40.60" fill="#0000ff" stroke="#0000ff" stroke-width="0"/>
<polygon points="461.80,35.20 464.80,40.60 458.80,40.60" fill="#0000ff" stroke="#0000ff" stroke-width="0"/>
<polygon points="471.10,35.30 474.10,40.70 468.10,40.70" fill="#0000ff" stroke="#0000ff" stroke-width="0"/>
<polygon points="480.20,35.50 483.20,40.90 477.20,40.90" fill="#0000ff" stroke="#0000ff" stroke-width="0"/>
<polygon points="488.80,35.70 491.80,41.10 485.80,41.10" fill="#0000ff" stroke="#0000ff" stroke-width="0"/>
<polygon points="497.50,36.40 500.50,41.80 494.50,41.80" fill="#0000ff" stroke="#0000ff" stroke-width="0"/>
<polygon points="506.50,36.60 509.50,42.00 503.50,42.00" fill="#0000ff" stroke="#0000ff" stroke-width="0"/>
<polygon points="515.40,37.10 518.40,42.50 512.40,42.50" fill="#0000ff" stroke="#0000ff" stroke-width="0"/>
<polygon points="524.30,37.60 527.30,43.00 521.30,43.00" fill="#0000ff" stroke="#0000ff" stroke-width="0"/>
<polygon points="533.10,38.60 536.10,44.00 530.10,44.00" fill="#0000ff" stroke="#0000ff" stroke-width="0"/>
<polygon points="542.00,40.20 545.00,45.60 539.00,45.60" fill="#0000ff" stroke="#0000ff" stroke-width="0"/>
<polygon points="550.80,41.70 553.80,47.10 547.80,47.10" fill="#0000ff" stroke="#0000ff" stroke-width="0"/>
<polygon points="559.50,45.10 562.50,50.50 556.50,50.50" fill="#0000ff" stroke="#0000ff" stroke-width="0"/>
<polygon points="568.20,49.30 571.20,54.70 565.20,54.70" fill="#0000ff" stroke="#0000ff" stroke-width="0"/>
<polygon points="576.90,53.80 579.90,59.20 573.90,59.20" fill="#0000ff" stroke="#0000ff" stroke-width="0"/>
<polygon points="585.50,59.00 588.50,64.40 582.50,64.40" fill="#0000ff" stroke="#0000ff" stroke-width="0"/>
<polygon points="594.20,63.90 597.20,69.30 591.20,69.30" fill="#0000ff" stroke="#0000ff" stroke-width="0"/>
<polygon points="603.00,67.20 606.00,72.60 600.00,72.60" fill="#0000ff" stroke="#0000ff" stroke-width="0"/>
<polygon points="611.60,70.80 614.60,76.20 608.60,76.20" fill="#0000ff" stroke="#0000ff" stroke-width="0"/>
<polygon points="620.30,74.60 623.30,80.00 617.30,80.00" fill="#0000ff" stroke="#0000ff" stroke-width="0"/>
<polygon points="628.90,78.80 631.90,84.20 625.90,84.20" fill="#0000ff" stroke="#0000ff" stroke-width="0"/>
<polygon points="637.40,82.90 640.40,88.30 634.40,88.30" fill="#0000ff" stroke="#0000ff" stroke-width="0"/>
<polygon points="645.90,86.80 648.90,92.20 642.90,92.20" fill="#0000ff" stroke="#0000ff" stroke-width="0"/>
<polygon points="654.60,90.80 657.60,96.20 651.60,96.20" fill="#0000ff" stroke="#0000ff" stroke-width="0"/>
<polygon points="662.70,93.80 665.70,99.20 659.70,99.20" fill="#0000ff" stroke="#0000ff" stroke-width="0"/>
<polygon points="671.30,97.20 674.30,102.60 668.30,102.60" fill="#0000ff" stroke="#0000ff" stroke-width="0"/>
<polygon points="679.60,101.40 682.60,106.80 676.60,106.80" fill="#0000ff" stroke="#0000ff" stroke-width="0"/>
<polygon points="688.10,105.30 691.10,110.70 685.10,110.70" fill="#0000ff" stroke="#0000ff" stroke-width="0"/>
<polyline points="443.40,37.80 452.60,37.80 461.80,37.80 471.10,37.90 480.20,38.10 488.80,38.30 497.50,39.00 506.50,39.20 515.40,39.70 524.30,40.20 533.10,41.20 542.00,42.80 550.80,44.30 559.50,46.60 568.20,49.70 576.90,53.10 585.50,57.20 594.20,61.00 603.00,64.30 611.60,67.90 620.30,71.70 628.90,75.90 637.40,80.00 645.90,83.90 654.60,87.90 662.70,90.90 671.30,94.30 679.60,98.50 688.10,102.40" fill="none" stroke="#ff60ff" stroke-width="0.7"/>
<polygon points="443.40,41.00 446.40,35.60 440.40,35.60" fill="#ff00ff" stroke="#ff00ff" stroke-width="0"/>
<polygon points="452.60,41.00 455.60,35.60 449.60,35.60" fill="#ff00ff" stroke="#ff00ff" stroke-width="0"/>
<polygon points="461.80,41.00 464.80,35.60 458.80,35.60" fill="#ff00ff" stroke="#ff00ff" stroke-width="0"/>
<polygon points="471.10,41.10 474.10,35.70 468.10,35.70" fill="#ff00ff" stroke="#ff00ff" stroke-width="0"/>
<polygon points="480.20,41.30 483.20,35.90 477.20,35.90" fill="#ff00ff" stroke="#ff00ff" stroke-width="0"/>
<polygon points="488.80,41.50 491.80,36.10 485.80,36.10" fill="#ff00ff" stroke="#ff00ff" stroke-width="0"/>
<polygon points="497.50,42.20 500.50,36.80 494.50,36.80" fill="#ff00ff" stroke="#ff00ff" stroke-width="0"/>
<polygon points="506.50,42.40 509.50,37.00 503.50,37.00" fill="#ff00ff" stroke="#ff00ff" stroke-width="0"/>
<polygon points="515.40,42.90 518.40,37.50 512.40,37.50" fill="#ff00ff" stroke="#ff00ff" stroke-width="0"/>
<polygon points="524.30,43.40 527.30,38.00 521.30,38.00" fill="#ff00ff" stroke="#ff00ff" stroke-width="0"/>
<polygon points="533.10,44.40 536.10,39.00 530.10,39.00" fill="#ff00ff" stroke="#ff00ff" stroke-width="0"/>
<polygon points="542.00,46.00 545.00,40.60 539.00,40.60" fill="#ff00ff" stroke="#ff00ff" stroke-width="0"/>
<polygon points="550.80,47.50 553.80,42.10 547.80,42.10" fill="#ff00ff" stroke="#ff00ff" stroke-width="0"/>
<polygon points="559.50,49.80 562.50,44.40 556.50,44.40" fill="#ff00ff" stroke="#ff00ff" stroke-width="0"/>
<polygon points="568.20,52.90 571.20,47.50 565.20,47.50" fill="#ff00ff" stroke="#ff00ff" stroke-width="0"/>
<polygon points="576.90,56.30 579.90,50.90 573.90,50.90" fill="#ff00ff" stroke="#ff00ff" stroke-width="0"/>
<polygon points="585.50,60.40 588.50,55.00 582.50,55.00" fill="#ff00ff" stroke="#ff00ff" stroke-width="0"/>
<polygon points="594.20,64.20 597.20,58.80 591.20,58.80" fill="#ff00ff" stroke="#ff00ff" stroke-width="0"/>
<polygon points="603.00,67.50 606.00,62.10 600.00,62.10" fill="#ff00ff" stroke="#ff00ff" stroke-width="0"/>
<polygon points="611.60,71.10 614.60,65.70 608.60,65.70" fill="#ff00ff" stroke="#ff00ff" stroke-width="0"/>
<polygon points="620.30,74.90 623.30,69.50 617.30,69.50" fill="#ff00ff" stroke="#ff00ff" stroke-width="0"/>
<polygon points="628.90,79.10 631.90,73.70 625.90,73.70" fill="#ff00ff" stroke="#ff00ff" stroke-width="0"/>
<polygon points="637.40,83.20 640.40,77.80 634.40,77.80" fill="#ff00ff" stroke="#ff00ff" stroke-width="0"/>
<polygon points="645.90,87.10 648.90,81.70 642.90,81.70" fill="#ff00ff" stroke="#ff00ff" stroke-width="0"/>
<polygon points="654.60,91.10 657.60,85.70 651.60,85.70" fill="#ff00ff" stroke="#ff00ff" stroke-width="0"/>
<polygon points="662.70,94.10 665.70,88.70 659.70,88.70" fill="#ff00ff" stroke="#ff00ff" stroke-width="0"/>
<polygon points="671.30,97.50 674.30,92.10 668.30,92.10" fill="#ff00ff" stroke="#ff00ff" stroke-width="0"/>
<polygon points="679.60,101.70 682.60,96.30 676.60,96.30" fill="#ff00ff" stroke="#ff00ff" stroke-width="0"/>
<polygon points="688.10,105.60 691.10,100.20 685.10,100.20" fill="#ff00ff" stroke="#ff00ff" stroke-width="0"/>
<polyline points="443.40,39.40 452.60,39.40 461.80,39.40 471.10,39.50 480.20,39.70 488.80,39.90 497.50,40.60 506.50,40.80 515.40,41.30 524.30,41.80 533.10,42.80 542.00,44.40 550.80,45.90 559.50,48.20 568.20,51.30 576.90,54.70 585.50,58.80 594.20,62.60 603.00,65.90 611.60,69.50 620.30,73.30 628.90,77.50 637.40,81.60 645.90,85.50 654.60,89.50 662.70,92.50 671.30,95.90 679.60,100.10 688.10,104.00" fill="none" stroke="#40a040" stroke-width="0.7"/>
<polygon points="443.40,36.00 446.60,39.40 443.40,42.80 440.20,39.40" fill="#008000" stroke="#008000" stroke-width="0"/>
<polygon points="452.60,36.00 455.80,39.40 452.60,42.80 449.40,39.40" fill="#008000" stroke="#008000" stroke-width="0"/>
<polygon points="461.80,36.00 465.00,39.40 461.80,42.80 458.60,39.40" fill="#008000" stroke="#008000" stroke-width="0"/>
<polygon points="471.10,36.10 474.30,39.50 471.10,42.90 467.90,39.50" fill="#008000" stroke="#008000" stroke-width="0"/>
<polygon points="480.20,36.30 483.40,39.70 480.20,43.10 477.00,39.70" fill="#008000" stroke="#008000" stroke-width="0"/>
<polygon points="488.80,36.50 492.00,39.90 488.80,43.30 485.60,39.90" fill="#008000" stroke="#008000" stroke-width="0"/>
<polygon points="497.50,37.20 500.70,40.60 497.50,44.00 494.30,40.60" fill="#008000" stroke="#008000" stroke-width="0"/>
<polygon points="506.50,37.40 509.70,40.80 506.50,44.20 503.30,40.80" fill="#008000" stroke="#008000" stroke-width="0"/>
<polygon points="515.40,37.90 518.60,41.30 515.40,44.70 512.20,41.30" fill="#008000" stroke="#008000" stroke-width="0"/>
<polygon points="524.30,38.40 527.50,41.80 524.30,45.20 521.10,41.80" fill="#008000" stroke="#008000" stroke-width="0"/>
<polygon points="533.10,39.40 536.30,42.80 533.10,46.20 529.90,42.80" fill="#008000" stroke="#008000" stroke-width="0"/>
<polygon points="542.00,41.00 545.20,44.40 542.00,47.80 538.80,44.40" fill="#008000" stroke="#008000" stroke-width="0"/>
<polygon points="550.80,42.50 554.00,45.90 550.80,49.30 547.60,45.90" fill="#008000" stroke="#008000" stroke-width="0"/>
<polygon points="559.50,44.80 562.70,48.20 559.50,51.60 556.30,48.20" fill="#008000" stroke="#008000" stroke-width="0"/>
<polygon points="568.20,47.90 571.40,51.30 568.20,54.70 565.00,51.30" fill="#008000" stroke="#008000" stroke-width="0"/>
<polygon points="576.90,51.30 580.10,54.70 576.90,58.10 573.70,54.70" fill="#008000" stroke="#008000" stroke-width="0"/>
<polygon points="585.50,55.40 588.70,58.80 585.50,62.20 582.30,58.80" fill="#008000" stroke="#008000" stroke-width="0"/>
<polygon points="594.20,59.20 597.40,62.60 594.20,66.00 591.00,62.60" fill="#008000" stroke="#008000" stroke-width="0"/>
<polygon points="603.00,62.50 606.20,65.90 603.00,69.30 599.80,65.90" fill="#008000" stroke="#008000" stroke-width="0"/>
<polygon points="611.60,66.10 614.80,69.50 611.60,72.90 608.40,69.50" fill="#008000" stroke="#008000" stroke-width="0"/>
<polygon points="620.30,69.90 623.50,73.30 620.30,76.70 617.10,73.30" fill="#008000" stroke="#008000" stroke-width="0"/>
<polygon points="628.90,74.10 632.10,77.50 628.90,80.90 625.70,77.50" fill="#008000" stroke="#008000" stroke-width="0"/>
<polygon points="637.40,78.20 640.60,81.60 637.40,85.00 634.20,81.60" fill="#008000" stroke="#008000" stroke-width="0"/>
<polygon points="645.90,82.10 649.10,85.50 645.90,88.90 642.70,85.50" fill="#008000" stroke="#008000" stroke-width="0"/>
<polygon points="654.60,86.10 657.80,89.50 654.60,92.90 651.40,89.50" fill="#008000" stroke="#008000" stroke-width="0"/>
<polygon points="662.70,89.10 665.90,92.50 662.70,95.90 659.50,92.50" fill="#008000" stroke="#008000" stroke-width="0"/>
<polygon points="671.30,92.50 674.50,95.90 671.30,99.30 668.10,95.90" fill="#008000" stroke="#008000" stroke-width="0"/>
<polygon points="679.60,96.70 682.80,100.10 679.60,103.50 676.40,100.10" fill="#008000" stroke="#008000" stroke-width="0"/>
<polygon points="688.10,100.60 691.30,104.00 688.10,107.40 684.90,104.00" fill="#008000" stroke="#008000" stroke-width="0"/>
<polyline points="443.40,38.10 452.60,38.10 461.80,38.10 471.10,38.20 480.20,38.40 488.80,38.60 497.50,39.30 506.50,39.50 515.40,40.00 524.30,40.50 533.10,41.50 542.00,43.10 550.80,44.60 559.50,46.90 568.20,50.00 576.90,53.40 585.50,57.50 594.20,61.30 603.00,64.60 611.60,68.20 620.30,72.00 628.90,76.20 637.40,80.30 645.90,84.20 654.60,88.20 662.70,91.20 671.30,94.60 679.60,98.80 688.10,102.70" fill="none" stroke="#5050a0" stroke-width="0.7"/>
<polygon points="439.90,38.10 445.90,34.70 445.90,41.50" fill="#000080" stroke="#000080" stroke-width="0"/>
<polygon points="449.10,38.10 455.10,34.70 455.10,41.50" fill="#000080" stroke="#000080" stroke-width="0"/>
<polygon points="458.30,38.10 464.30,34.70 464.30,41.50" fill="#000080" stroke="#000080" stroke-width="0"/>
<polygon points="467.60,38.20 473.60,34.80 473.60,41.60" fill="#000080" stroke="#000080" stroke-width="0"/>
<polygon points="476.70,38.40 482.70,35.00 482.70,41.80" fill="#000080" stroke="#000080" stroke-width="0"/>
<polygon points="485.30,38.60 491.30,35.20 491.30,42.00" fill="#000080" stroke="#000080" stroke-width="0"/>
<polygon points="494.00,39.30 500.00,35.90 500.00,42.70" fill="#000080" stroke="#000080" stroke-width="0"/>
<polygon points="503.00,39.50 509.00,36.10 509.00,42.90" fill="#000080" stroke="#000080" stroke-width="0"/>
<polygon points="511.90,40.00 517.90,36.60 517.90,43.40" fill="#000080" stroke="#000080" stroke-width="0"/>
<polygon points="520.80,40.50 526.80,37.10 526.80,43.90" fill="#000080" stroke="#000080" stroke-width="0"/>
<polygon points="529.60,41.50 535.60,38.10 535.60,44.90" fill="#000080" stroke="#000080" stroke-width="0"/>
<polygon points="538.50,43.10 544.50,39.70 544.50,46.50" fill="#000080" stroke="#000080" stroke-width="0"/>
<polygon points="547.30,44.60 553.30,41.20 553.30,48.00" fill="#000080" stroke="#000080" stroke-width="0"/>
<polygon points="556.00,46.90 562.00,43.50 562.00,50.30" fill="#000080" stroke="#000080" stroke-width="0"/>
<polygon points="564.70,50.00 570.70,46.60 570.70,53.40" fill="#000080" stroke="#000080" stroke-width="0"/>
<polygon points="573.40,53.40 579.40,50.00 579.40,56.80" fill="#000080" stroke="#000080" stroke-width="0"/>
<polygon points="582.00,57.50 588.00,54.10 588.00,60.90" fill="#000080" stroke="#000080" stroke-width="0"/>
<polygon points="590.70,61.30 596.70,57.90 596.70,64.70" fill="#000080" stroke="#000080" stroke-width="0"/>
<polygon points="599.50,64.60 605.50,61.20 605.50,68.00" fill="#000080" stroke="#000080" stroke-width="0"/>
<polygon points="608.10,68.20 614.10,64.80 614.10,71.60" fill="#000080" stroke="#000080" stroke-width="0"/>
<polygon points="616.80,72.00 622.80,68.60 622.80,75.40" fill="#000080" stroke="#000080" stroke-width="0"/>
<polygon points="625.40,76.20 631.40,72.80 631.40,79.60" fill="#000080" stroke="#000080" stroke-width="0"/>
<polygon points="633.90,80.30 639.90,76.90 639.90,83.70" fill="#000080" stroke="#000080" stroke-width="0"/>
<polygon points="642.40,84.20 648.40,80.80 648.40,87.60" fill="#000080" stroke="#000080" stroke-width="0"/>
<polygon points="651.10,88.20 657.10,84.80 657.10,91.60" fill="#000080" stroke="#000080" stroke-width="0"/>
<polygon points="659.20,91.20 665.20,87.80 665.20,94.60" fill="#000080" stroke="#000080" stroke-width="0"/>
<polygon points="667.80,94.60 673.80,91.20 673.80,98.00" fill="#000080" stroke="#000080" stroke-width="0"/>
<polygon points="676.10,98.80 682.10,95.40 682.10,102.20" fill="#000080" stroke="#000080" stroke-width="0"/>
<polygon points="684.60,102.70 690.60,99.30 690.60,106.10" fill="#000080" stroke="#000080" stroke-width="0"/>
</svg>
</body></html>
